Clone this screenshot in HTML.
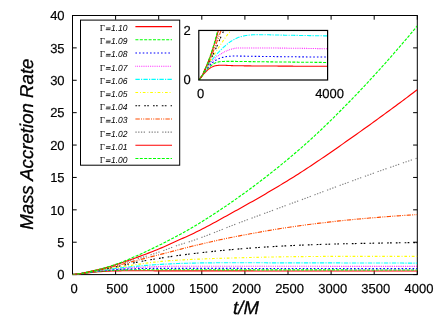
<!DOCTYPE html>
<html><head><meta charset="utf-8"><title>Mass Accretion Rate</title>
<style>html,body{margin:0;padding:0;background:#fff;}svg{display:block;}text{font-family:"Liberation Sans",sans-serif;fill:#000;text-rendering:geometricPrecision;}.tk{font-size:13px;stroke:#000;stroke-width:0.18px;}.ser{font-family:"Liberation Serif",serif;}</style></head><body>
<svg width="436" height="318" viewBox="0 0 436 318">
<rect x="0" y="0" width="436" height="318" fill="#fff"/>
<g style="will-change:transform">
<defs><clipPath id="cm"><rect x="72.5" y="15.5" width="344.8" height="259.1"/></clipPath><clipPath id="ci"><rect x="198.8" y="30.45" width="128.8" height="49.55"/></clipPath></defs>
<g stroke="#000" stroke-width="1" fill="none">
<rect x="72.5" y="15.5" width="344.8" height="259.1"/>
<path d="M72.50 274.6 v-4.2 M72.50 15.5 v4.2"/>
<path d="M115.60 274.6 v-4.2 M115.60 15.5 v4.2"/>
<path d="M158.70 274.6 v-4.2 M158.70 15.5 v4.2"/>
<path d="M201.80 274.6 v-4.2 M201.80 15.5 v4.2"/>
<path d="M244.90 274.6 v-4.2 M244.90 15.5 v4.2"/>
<path d="M288.00 274.6 v-4.2 M288.00 15.5 v4.2"/>
<path d="M331.10 274.6 v-4.2 M331.10 15.5 v4.2"/>
<path d="M374.20 274.6 v-4.2 M374.20 15.5 v4.2"/>
<path d="M417.30 274.6 v-4.2 M417.30 15.5 v4.2"/>
<path d="M72.5 274.60 h4.2 M417.3 274.60 h-4.2"/>
<path d="M72.5 242.21 h4.2 M417.3 242.21 h-4.2"/>
<path d="M72.5 209.83 h4.2 M417.3 209.83 h-4.2"/>
<path d="M72.5 177.44 h4.2 M417.3 177.44 h-4.2"/>
<path d="M72.5 145.05 h4.2 M417.3 145.05 h-4.2"/>
<path d="M72.5 112.66 h4.2 M417.3 112.66 h-4.2"/>
<path d="M72.5 80.28 h4.2 M417.3 80.28 h-4.2"/>
<path d="M72.5 47.89 h4.2 M417.3 47.89 h-4.2"/>
<path d="M72.5 15.50 h4.2 M417.3 15.50 h-4.2"/>
</g>
<text class="tk" x="64.6" y="279.35" text-anchor="end">0</text>
<text class="tk" x="64.6" y="246.96" text-anchor="end">5</text>
<text class="tk" x="64.6" y="214.58" text-anchor="end">10</text>
<text class="tk" x="64.6" y="182.19" text-anchor="end">15</text>
<text class="tk" x="64.6" y="149.80" text-anchor="end">20</text>
<text class="tk" x="64.6" y="117.41" text-anchor="end">25</text>
<text class="tk" x="64.6" y="85.03" text-anchor="end">30</text>
<text class="tk" x="64.6" y="52.64" text-anchor="end">35</text>
<text class="tk" x="64.6" y="20.25" text-anchor="end">40</text>
<text class="tk" x="74.10" y="293.1" text-anchor="middle">0</text>
<text class="tk" x="117.20" y="293.1" text-anchor="middle">500</text>
<text class="tk" x="160.30" y="293.1" text-anchor="middle">1000</text>
<text class="tk" x="203.40" y="293.1" text-anchor="middle">1500</text>
<text class="tk" x="246.50" y="293.1" text-anchor="middle">2000</text>
<text class="tk" x="289.60" y="293.1" text-anchor="middle">2500</text>
<text class="tk" x="332.70" y="293.1" text-anchor="middle">3000</text>
<text class="tk" x="375.80" y="293.1" text-anchor="middle">3500</text>
<text class="tk" x="418.90" y="293.1" text-anchor="middle">4000</text>
<text x="246" y="313.5" text-anchor="middle" font-size="18.6" font-style="italic" stroke="#000" stroke-width="0.3">t/M</text>
<text transform="translate(33.0 144.2) rotate(-90)" text-anchor="middle" font-size="18.65" font-style="italic" stroke="#000" stroke-width="0.3">Mass Accretion Rate</text>
<g clip-path="url(#cm)">
<path d="M72.50 274.60 L74.67 274.33 L76.84 274.07 L79.01 273.81 L81.17 273.56 L83.34 273.31 L85.51 273.07 L87.68 272.83 L89.85 272.62 L92.02 272.40 L94.19 272.18 L96.35 271.97 L98.52 271.77 L100.69 271.60 L102.86 271.46 L105.03 271.34 L107.20 271.23 L109.37 271.13 L111.53 271.04 L113.70 270.96 L115.87 270.90 L118.04 270.86 L120.21 270.83 L122.38 270.80 L124.55 270.77 L126.71 270.75 L128.88 270.73 L131.05 270.73 L133.22 270.73 L135.39 270.73 L137.56 270.73 L139.73 270.74 L141.89 270.75 L144.06 270.76 L146.23 270.77 L148.40 270.78 L150.57 270.79 L152.74 270.80 L154.91 270.82 L157.07 270.83 L159.24 270.84 L161.41 270.84 L163.58 270.85 L165.75 270.86 L167.92 270.86 L170.08 270.86 L172.25 270.87 L174.42 270.87 L176.59 270.87 L178.76 270.88 L180.93 270.88 L183.10 270.88 L185.26 270.89 L187.43 270.89 L189.60 270.89 L191.77 270.89 L193.94 270.90 L196.11 270.90 L198.28 270.90 L200.44 270.90 L202.61 270.91 L204.78 270.91 L206.95 270.91 L209.12 270.91 L211.29 270.92 L213.46 270.92 L215.62 270.92 L217.79 270.92 L219.96 270.92 L222.13 270.92 L224.30 270.93 L226.47 270.93 L228.64 270.93 L230.80 270.93 L232.97 270.93 L235.14 270.93 L237.31 270.94 L239.48 270.94 L241.65 270.94 L243.82 270.94 L245.98 270.94 L248.15 270.94 L250.32 270.94 L252.49 270.94 L254.66 270.95 L256.83 270.95 L259.00 270.95 L261.16 270.95 L263.33 270.95 L265.50 270.95 L267.67 270.95 L269.84 270.95 L272.01 270.96 L274.18 270.96 L276.34 270.96 L278.51 270.96 L280.68 270.96 L282.85 270.96 L285.02 270.96 L287.19 270.96 L289.36 270.97 L291.52 270.97 L293.69 270.97 L295.86 270.97 L298.03 270.97 L300.20 270.97 L302.37 270.97 L304.54 270.97 L306.70 270.97 L308.87 270.98 L311.04 270.98 L313.21 270.98 L315.38 270.98 L317.55 270.98 L319.72 270.98 L321.88 270.98 L324.05 270.98 L326.22 270.98 L328.39 270.98 L330.56 270.99 L332.73 270.99 L334.89 270.99 L337.06 270.99 L339.23 270.99 L341.40 270.99 L343.57 270.99 L345.74 270.99 L347.91 270.99 L350.07 270.99 L352.24 270.99 L354.41 270.99 L356.58 270.99 L358.75 271.00 L360.92 271.00 L363.09 271.00 L365.25 271.00 L367.42 271.00 L369.59 271.00 L371.76 271.00 L373.93 271.00 L376.10 271.00 L378.27 271.00 L380.43 271.00 L382.60 271.00 L384.77 271.00 L386.94 271.00 L389.11 271.00 L391.28 271.00 L393.45 271.00 L395.61 271.00 L397.78 271.00 L399.95 271.00 L402.12 271.00 L404.29 271.00 L406.46 271.00 L408.63 271.00 L410.79 271.00 L412.96 271.00 L415.13 271.00 L417.30 271.00" stroke="#ff0000" stroke-width="1.15" fill="none"/>
<path d="M72.50 274.60 L74.67 274.34 L76.84 274.07 L79.01 273.80 L81.17 273.52 L83.34 273.23 L85.51 272.93 L87.68 272.63 L89.85 272.37 L92.02 272.12 L94.19 271.88 L96.35 271.65 L98.52 271.43 L100.69 271.23 L102.86 271.04 L105.03 270.87 L107.20 270.71 L109.37 270.55 L111.53 270.41 L113.70 270.28 L115.87 270.17 L118.04 270.09 L120.21 270.02 L122.38 269.95 L124.55 269.89 L126.71 269.84 L128.88 269.80 L131.05 269.78 L133.22 269.77 L135.39 269.76 L137.56 269.75 L139.73 269.74 L141.89 269.74 L144.06 269.73 L146.23 269.73 L148.40 269.73 L150.57 269.73 L152.74 269.73 L154.91 269.73 L157.07 269.73 L159.24 269.73 L161.41 269.73 L163.58 269.73 L165.75 269.73 L167.92 269.74 L170.08 269.74 L172.25 269.74 L174.42 269.74 L176.59 269.74 L178.76 269.75 L180.93 269.75 L183.10 269.75 L185.26 269.75 L187.43 269.76 L189.60 269.76 L191.77 269.76 L193.94 269.77 L196.11 269.77 L198.28 269.77 L200.44 269.78 L202.61 269.78 L204.78 269.78 L206.95 269.79 L209.12 269.79 L211.29 269.79 L213.46 269.80 L215.62 269.80 L217.79 269.80 L219.96 269.81 L222.13 269.81 L224.30 269.81 L226.47 269.82 L228.64 269.82 L230.80 269.82 L232.97 269.82 L235.14 269.83 L237.31 269.83 L239.48 269.83 L241.65 269.84 L243.82 269.84 L245.98 269.84 L248.15 269.84 L250.32 269.84 L252.49 269.85 L254.66 269.85 L256.83 269.85 L259.00 269.85 L261.16 269.86 L263.33 269.86 L265.50 269.86 L267.67 269.86 L269.84 269.87 L272.01 269.87 L274.18 269.87 L276.34 269.87 L278.51 269.88 L280.68 269.88 L282.85 269.88 L285.02 269.88 L287.19 269.88 L289.36 269.89 L291.52 269.89 L293.69 269.89 L295.86 269.89 L298.03 269.90 L300.20 269.90 L302.37 269.90 L304.54 269.90 L306.70 269.91 L308.87 269.91 L311.04 269.91 L313.21 269.91 L315.38 269.91 L317.55 269.92 L319.72 269.92 L321.88 269.92 L324.05 269.92 L326.22 269.93 L328.39 269.93 L330.56 269.93 L332.73 269.93 L334.89 269.93 L337.06 269.94 L339.23 269.94 L341.40 269.94 L343.57 269.94 L345.74 269.94 L347.91 269.95 L350.07 269.95 L352.24 269.95 L354.41 269.95 L356.58 269.96 L358.75 269.96 L360.92 269.96 L363.09 269.96 L365.25 269.96 L367.42 269.97 L369.59 269.97 L371.76 269.97 L373.93 269.97 L376.10 269.97 L378.27 269.98 L380.43 269.98 L382.60 269.98 L384.77 269.98 L386.94 269.99 L389.11 269.99 L391.28 269.99 L393.45 269.99 L395.61 269.99 L397.78 270.00 L399.95 270.00 L402.12 270.00 L404.29 270.00 L406.46 270.00 L408.63 270.01 L410.79 270.01 L412.96 270.01 L415.13 270.01 L417.30 270.01" stroke="#00ff00" stroke-width="1.15" fill="none" stroke-dasharray="3 1.4"/>
<path d="M72.50 274.60 L74.67 274.35 L76.84 274.08 L79.01 273.80 L81.17 273.50 L83.34 273.17 L85.51 272.82 L87.68 272.47 L89.85 272.16 L92.02 271.87 L94.19 271.60 L96.35 271.33 L98.52 271.08 L100.69 270.85 L102.86 270.63 L105.03 270.43 L107.20 270.23 L109.37 270.05 L111.53 269.87 L113.70 269.71 L115.87 269.57 L118.04 269.44 L120.21 269.32 L122.38 269.21 L124.55 269.10 L126.71 269.01 L128.88 268.92 L131.05 268.85 L133.22 268.78 L135.39 268.71 L137.56 268.65 L139.73 268.60 L141.89 268.55 L144.06 268.51 L146.23 268.48 L148.40 268.46 L150.57 268.44 L152.74 268.41 L154.91 268.39 L157.07 268.38 L159.24 268.36 L161.41 268.35 L163.58 268.35 L165.75 268.34 L167.92 268.34 L170.08 268.34 L172.25 268.34 L174.42 268.35 L176.59 268.35 L178.76 268.35 L180.93 268.35 L183.10 268.35 L185.26 268.35 L187.43 268.36 L189.60 268.36 L191.77 268.36 L193.94 268.37 L196.11 268.37 L198.28 268.37 L200.44 268.38 L202.61 268.38 L204.78 268.38 L206.95 268.39 L209.12 268.39 L211.29 268.39 L213.46 268.40 L215.62 268.40 L217.79 268.41 L219.96 268.41 L222.13 268.41 L224.30 268.42 L226.47 268.42 L228.64 268.42 L230.80 268.43 L232.97 268.43 L235.14 268.43 L237.31 268.44 L239.48 268.44 L241.65 268.44 L243.82 268.45 L245.98 268.45 L248.15 268.45 L250.32 268.45 L252.49 268.45 L254.66 268.46 L256.83 268.46 L259.00 268.46 L261.16 268.46 L263.33 268.47 L265.50 268.47 L267.67 268.47 L269.84 268.47 L272.01 268.48 L274.18 268.48 L276.34 268.48 L278.51 268.48 L280.68 268.49 L282.85 268.49 L285.02 268.49 L287.19 268.49 L289.36 268.49 L291.52 268.50 L293.69 268.50 L295.86 268.50 L298.03 268.50 L300.20 268.51 L302.37 268.51 L304.54 268.51 L306.70 268.51 L308.87 268.51 L311.04 268.52 L313.21 268.52 L315.38 268.52 L317.55 268.52 L319.72 268.53 L321.88 268.53 L324.05 268.53 L326.22 268.53 L328.39 268.53 L330.56 268.54 L332.73 268.54 L334.89 268.54 L337.06 268.54 L339.23 268.54 L341.40 268.55 L343.57 268.55 L345.74 268.55 L347.91 268.55 L350.07 268.55 L352.24 268.56 L354.41 268.56 L356.58 268.56 L358.75 268.56 L360.92 268.56 L363.09 268.57 L365.25 268.57 L367.42 268.57 L369.59 268.57 L371.76 268.57 L373.93 268.58 L376.10 268.58 L378.27 268.58 L380.43 268.58 L382.60 268.58 L384.77 268.58 L386.94 268.59 L389.11 268.59 L391.28 268.59 L393.45 268.59 L395.61 268.59 L397.78 268.59 L399.95 268.60 L402.12 268.60 L404.29 268.60 L406.46 268.60 L408.63 268.60 L410.79 268.60 L412.96 268.61 L415.13 268.61 L417.30 268.61" stroke="#0000ff" stroke-width="1.15" fill="none" stroke-dasharray="1.6 2.06"/>
<path d="M72.50 274.60 L74.67 274.36 L76.84 274.09 L79.01 273.80 L81.17 273.49 L83.34 273.13 L85.51 272.73 L87.68 272.33 L89.85 271.99 L92.02 271.67 L94.19 271.36 L96.35 271.08 L98.52 270.80 L100.69 270.53 L102.86 270.28 L105.03 270.03 L107.20 269.78 L109.37 269.55 L111.53 269.32 L113.70 269.11 L115.87 268.91 L118.04 268.73 L120.21 268.56 L122.38 268.40 L124.55 268.25 L126.71 268.10 L128.88 267.96 L131.05 267.83 L133.22 267.70 L135.39 267.57 L137.56 267.45 L139.73 267.33 L141.89 267.22 L144.06 267.12 L146.23 267.02 L148.40 266.93 L150.57 266.84 L152.74 266.76 L154.91 266.68 L157.07 266.61 L159.24 266.55 L161.41 266.50 L163.58 266.44 L165.75 266.39 L167.92 266.34 L170.08 266.30 L172.25 266.27 L174.42 266.25 L176.59 266.24 L178.76 266.24 L180.93 266.24 L183.10 266.24 L185.26 266.24 L187.43 266.24 L189.60 266.24 L191.77 266.24 L193.94 266.24 L196.11 266.24 L198.28 266.24 L200.44 266.24 L202.61 266.24 L204.78 266.24 L206.95 266.24 L209.12 266.24 L211.29 266.24 L213.46 266.24 L215.62 266.24 L217.79 266.24 L219.96 266.24 L222.13 266.24 L224.30 266.24 L226.47 266.24 L228.64 266.24 L230.80 266.24 L232.97 266.24 L235.14 266.24 L237.31 266.24 L239.48 266.24 L241.65 266.24 L243.82 266.24 L245.98 266.24 L248.15 266.24 L250.32 266.24 L252.49 266.24 L254.66 266.24 L256.83 266.25 L259.00 266.25 L261.16 266.25 L263.33 266.25 L265.50 266.25 L267.67 266.25 L269.84 266.25 L272.01 266.25 L274.18 266.25 L276.34 266.25 L278.51 266.25 L280.68 266.25 L282.85 266.26 L285.02 266.26 L287.19 266.26 L289.36 266.26 L291.52 266.26 L293.69 266.26 L295.86 266.26 L298.03 266.27 L300.20 266.27 L302.37 266.27 L304.54 266.27 L306.70 266.27 L308.87 266.28 L311.04 266.28 L313.21 266.28 L315.38 266.28 L317.55 266.28 L319.72 266.29 L321.88 266.29 L324.05 266.29 L326.22 266.29 L328.39 266.30 L330.56 266.30 L332.73 266.30 L334.89 266.30 L337.06 266.31 L339.23 266.31 L341.40 266.31 L343.57 266.32 L345.74 266.32 L347.91 266.32 L350.07 266.32 L352.24 266.33 L354.41 266.33 L356.58 266.33 L358.75 266.34 L360.92 266.34 L363.09 266.34 L365.25 266.35 L367.42 266.35 L369.59 266.35 L371.76 266.36 L373.93 266.36 L376.10 266.36 L378.27 266.37 L380.43 266.37 L382.60 266.38 L384.77 266.38 L386.94 266.38 L389.11 266.39 L391.28 266.39 L393.45 266.39 L395.61 266.40 L397.78 266.40 L399.95 266.41 L402.12 266.41 L404.29 266.41 L406.46 266.42 L408.63 266.42 L410.79 266.43 L412.96 266.43 L415.13 266.43 L417.30 266.44" stroke="#ff00ff" stroke-width="1.15" fill="none" stroke-dasharray="0.75 1.08"/>
<path d="M72.50 274.60 L74.67 274.37 L76.84 274.11 L79.01 273.81 L81.17 273.49 L83.34 273.11 L85.51 272.68 L87.68 272.25 L89.85 271.88 L92.02 271.53 L94.19 271.20 L96.35 270.89 L98.52 270.58 L100.69 270.28 L102.86 269.99 L105.03 269.70 L107.20 269.42 L109.37 269.15 L111.53 268.88 L113.70 268.62 L115.87 268.37 L118.04 268.13 L120.21 267.89 L122.38 267.65 L124.55 267.42 L126.71 267.20 L128.88 266.98 L131.05 266.77 L133.22 266.56 L135.39 266.36 L137.56 266.16 L139.73 265.97 L141.89 265.77 L144.06 265.58 L146.23 265.39 L148.40 265.22 L150.57 265.04 L152.74 264.88 L154.91 264.73 L157.07 264.59 L159.24 264.45 L161.41 264.32 L163.58 264.19 L165.75 264.07 L167.92 263.95 L170.08 263.84 L172.25 263.73 L174.42 263.63 L176.59 263.54 L178.76 263.46 L180.93 263.39 L183.10 263.33 L185.26 263.27 L187.43 263.21 L189.60 263.16 L191.77 263.11 L193.94 263.06 L196.11 263.02 L198.28 262.98 L200.44 262.94 L202.61 262.91 L204.78 262.89 L206.95 262.87 L209.12 262.85 L211.29 262.83 L213.46 262.81 L215.62 262.80 L217.79 262.78 L219.96 262.77 L222.13 262.76 L224.30 262.75 L226.47 262.75 L228.64 262.75 L230.80 262.75 L232.97 262.75 L235.14 262.75 L237.31 262.75 L239.48 262.75 L241.65 262.76 L243.82 262.76 L245.98 262.76 L248.15 262.76 L250.32 262.77 L252.49 262.77 L254.66 262.78 L256.83 262.78 L259.00 262.78 L261.16 262.79 L263.33 262.79 L265.50 262.80 L267.67 262.80 L269.84 262.81 L272.01 262.81 L274.18 262.82 L276.34 262.82 L278.51 262.83 L280.68 262.84 L282.85 262.84 L285.02 262.85 L287.19 262.85 L289.36 262.85 L291.52 262.86 L293.69 262.86 L295.86 262.87 L298.03 262.87 L300.20 262.88 L302.37 262.88 L304.54 262.88 L306.70 262.89 L308.87 262.89 L311.04 262.89 L313.21 262.90 L315.38 262.90 L317.55 262.91 L319.72 262.91 L321.88 262.91 L324.05 262.92 L326.22 262.92 L328.39 262.92 L330.56 262.93 L332.73 262.93 L334.89 262.94 L337.06 262.94 L339.23 262.94 L341.40 262.95 L343.57 262.95 L345.74 262.95 L347.91 262.96 L350.07 262.96 L352.24 262.96 L354.41 262.97 L356.58 262.97 L358.75 262.98 L360.92 262.98 L363.09 262.98 L365.25 262.99 L367.42 262.99 L369.59 262.99 L371.76 263.00 L373.93 263.00 L376.10 263.00 L378.27 263.01 L380.43 263.01 L382.60 263.01 L384.77 263.02 L386.94 263.02 L389.11 263.03 L391.28 263.03 L393.45 263.03 L395.61 263.04 L397.78 263.04 L399.95 263.04 L402.12 263.05 L404.29 263.05 L406.46 263.05 L408.63 263.06 L410.79 263.06 L412.96 263.06 L415.13 263.07 L417.30 263.07" stroke="#00ffff" stroke-width="1.15" fill="none" stroke-dasharray="4.4 1.2 1.2 1.2"/>
<path d="M72.50 274.60 L74.67 274.38 L76.84 274.11 L79.01 273.82 L81.17 273.49 L83.34 273.10 L85.51 272.66 L87.68 272.21 L89.85 271.80 L92.02 271.43 L94.19 271.07 L96.35 270.71 L98.52 270.37 L100.69 270.03 L102.86 269.68 L105.03 269.33 L107.20 268.98 L109.37 268.63 L111.53 268.28 L113.70 267.94 L115.87 267.60 L118.04 267.26 L120.21 266.93 L122.38 266.60 L124.55 266.27 L126.71 265.95 L128.88 265.63 L131.05 265.32 L133.22 265.01 L135.39 264.70 L137.56 264.38 L139.73 264.07 L141.89 263.75 L144.06 263.44 L146.23 263.14 L148.40 262.85 L150.57 262.58 L152.74 262.32 L154.91 262.09 L157.07 261.87 L159.24 261.65 L161.41 261.44 L163.58 261.24 L165.75 261.05 L167.92 260.86 L170.08 260.69 L172.25 260.52 L174.42 260.37 L176.59 260.22 L178.76 260.09 L180.93 259.97 L183.10 259.86 L185.26 259.74 L187.43 259.63 L189.60 259.53 L191.77 259.43 L193.94 259.33 L196.11 259.23 L198.28 259.14 L200.44 259.04 L202.61 258.96 L204.78 258.87 L206.95 258.79 L209.12 258.71 L211.29 258.63 L213.46 258.55 L215.62 258.47 L217.79 258.40 L219.96 258.33 L222.13 258.26 L224.30 258.20 L226.47 258.13 L228.64 258.07 L230.80 258.01 L232.97 257.94 L235.14 257.89 L237.31 257.83 L239.48 257.77 L241.65 257.72 L243.82 257.66 L245.98 257.61 L248.15 257.55 L250.32 257.50 L252.49 257.44 L254.66 257.39 L256.83 257.34 L259.00 257.28 L261.16 257.23 L263.33 257.18 L265.50 257.13 L267.67 257.09 L269.84 257.04 L272.01 257.00 L274.18 256.95 L276.34 256.91 L278.51 256.87 L280.68 256.83 L282.85 256.80 L285.02 256.76 L287.19 256.73 L289.36 256.70 L291.52 256.68 L293.69 256.65 L295.86 256.63 L298.03 256.61 L300.20 256.59 L302.37 256.58 L304.54 256.56 L306.70 256.54 L308.87 256.53 L311.04 256.51 L313.21 256.50 L315.38 256.49 L317.55 256.47 L319.72 256.46 L321.88 256.45 L324.05 256.43 L326.22 256.42 L328.39 256.41 L330.56 256.40 L332.73 256.39 L334.89 256.38 L337.06 256.37 L339.23 256.37 L341.40 256.36 L343.57 256.35 L345.74 256.35 L347.91 256.34 L350.07 256.34 L352.24 256.34 L354.41 256.33 L356.58 256.33 L358.75 256.33 L360.92 256.33 L363.09 256.33 L365.25 256.33 L367.42 256.33 L369.59 256.33 L371.76 256.33 L373.93 256.33 L376.10 256.33 L378.27 256.33 L380.43 256.33 L382.60 256.33 L384.77 256.33 L386.94 256.33 L389.11 256.33 L391.28 256.33 L393.45 256.33 L395.61 256.33 L397.78 256.33 L399.95 256.33 L402.12 256.33 L404.29 256.33 L406.46 256.33 L408.63 256.33 L410.79 256.33 L412.96 256.33 L415.13 256.33 L417.30 256.33" stroke="#ffff00" stroke-width="1.15" fill="none" stroke-dasharray="2.7 1.9 0.9 1.9"/>
<path d="M72.50 274.60 L74.67 274.38 L76.84 274.12 L79.01 273.81 L81.17 273.48 L83.34 273.09 L85.51 272.62 L87.68 272.15 L89.85 271.73 L92.02 271.34 L94.19 270.98 L96.35 270.62 L98.52 270.25 L100.69 269.88 L102.86 269.50 L105.03 269.08 L107.20 268.65 L109.37 268.21 L111.53 267.76 L113.70 267.31 L115.87 266.85 L118.04 266.39 L120.21 265.92 L122.38 265.44 L124.55 264.95 L126.71 264.45 L128.88 263.96 L131.05 263.47 L133.22 262.99 L135.39 262.52 L137.56 262.07 L139.73 261.65 L141.89 261.24 L144.06 260.84 L146.23 260.46 L148.40 260.09 L150.57 259.72 L152.74 259.36 L154.91 259.01 L157.07 258.66 L159.24 258.32 L161.41 257.98 L163.58 257.65 L165.75 257.32 L167.92 257.00 L170.08 256.68 L172.25 256.37 L174.42 256.06 L176.59 255.75 L178.76 255.45 L180.93 255.16 L183.10 254.86 L185.26 254.58 L187.43 254.30 L189.60 254.04 L191.77 253.78 L193.94 253.53 L196.11 253.28 L198.28 253.03 L200.44 252.78 L202.61 252.54 L204.78 252.29 L206.95 252.05 L209.12 251.82 L211.29 251.58 L213.46 251.35 L215.62 251.12 L217.79 250.90 L219.96 250.68 L222.13 250.46 L224.30 250.25 L226.47 250.05 L228.64 249.85 L230.80 249.65 L232.97 249.46 L235.14 249.27 L237.31 249.10 L239.48 248.92 L241.65 248.76 L243.82 248.59 L245.98 248.43 L248.15 248.26 L250.32 248.10 L252.49 247.95 L254.66 247.79 L256.83 247.64 L259.00 247.48 L261.16 247.34 L263.33 247.19 L265.50 247.05 L267.67 246.90 L269.84 246.77 L272.01 246.63 L274.18 246.50 L276.34 246.37 L278.51 246.24 L280.68 246.12 L282.85 246.00 L285.02 245.89 L287.19 245.77 L289.36 245.67 L291.52 245.56 L293.69 245.46 L295.86 245.36 L298.03 245.27 L300.20 245.18 L302.37 245.10 L304.54 245.01 L306.70 244.93 L308.87 244.85 L311.04 244.78 L313.21 244.70 L315.38 244.62 L317.55 244.55 L319.72 244.48 L321.88 244.41 L324.05 244.34 L326.22 244.28 L328.39 244.21 L330.56 244.15 L332.73 244.09 L334.89 244.03 L337.06 243.97 L339.23 243.91 L341.40 243.86 L343.57 243.80 L345.74 243.75 L347.91 243.70 L350.07 243.65 L352.24 243.61 L354.41 243.56 L356.58 243.52 L358.75 243.47 L360.92 243.43 L363.09 243.39 L365.25 243.35 L367.42 243.30 L369.59 243.26 L371.76 243.22 L373.93 243.18 L376.10 243.15 L378.27 243.11 L380.43 243.07 L382.60 243.03 L384.77 243.00 L386.94 242.96 L389.11 242.93 L391.28 242.90 L393.45 242.87 L395.61 242.84 L397.78 242.81 L399.95 242.78 L402.12 242.75 L404.29 242.73 L406.46 242.70 L408.63 242.68 L410.79 242.66 L412.96 242.64 L415.13 242.62 L417.30 242.60" stroke="#000000" stroke-width="1.15" fill="none" stroke-dasharray="1.7 1.3 1.7 4.1"/>
<path d="M72.50 274.60 L74.67 274.38 L76.84 274.12 L79.01 273.82 L81.17 273.48 L83.34 273.08 L85.51 272.62 L87.68 272.14 L89.85 271.69 L92.02 271.26 L94.19 270.84 L96.35 270.43 L98.52 270.01 L100.69 269.58 L102.86 269.12 L105.03 268.64 L107.20 268.13 L109.37 267.60 L111.53 267.05 L113.70 266.50 L115.87 265.95 L118.04 265.39 L120.21 264.83 L122.38 264.25 L124.55 263.67 L126.71 263.09 L128.88 262.51 L131.05 261.93 L133.22 261.37 L135.39 260.80 L137.56 260.24 L139.73 259.69 L141.89 259.13 L144.06 258.58 L146.23 258.02 L148.40 257.47 L150.57 256.92 L152.74 256.37 L154.91 255.81 L157.07 255.26 L159.24 254.70 L161.41 254.15 L163.58 253.60 L165.75 253.04 L167.92 252.49 L170.08 251.94 L172.25 251.38 L174.42 250.82 L176.59 250.26 L178.76 249.70 L180.93 249.13 L183.10 248.55 L185.26 247.96 L187.43 247.38 L189.60 246.82 L191.77 246.29 L193.94 245.76 L196.11 245.24 L198.28 244.72 L200.44 244.21 L202.61 243.70 L204.78 243.20 L206.95 242.70 L209.12 242.20 L211.29 241.71 L213.46 241.23 L215.62 240.75 L217.79 240.27 L219.96 239.80 L222.13 239.34 L224.30 238.88 L226.47 238.43 L228.64 237.98 L230.80 237.54 L232.97 237.10 L235.14 236.67 L237.31 236.25 L239.48 235.83 L241.65 235.42 L243.82 235.01 L245.98 234.60 L248.15 234.19 L250.32 233.79 L252.49 233.39 L254.66 233.00 L256.83 232.60 L259.00 232.21 L261.16 231.83 L263.33 231.44 L265.50 231.07 L267.67 230.69 L269.84 230.32 L272.01 229.96 L274.18 229.60 L276.34 229.24 L278.51 228.89 L280.68 228.54 L282.85 228.20 L285.02 227.86 L287.19 227.53 L289.36 227.21 L291.52 226.89 L293.69 226.57 L295.86 226.26 L298.03 225.96 L300.20 225.67 L302.37 225.37 L304.54 225.09 L306.70 224.80 L308.87 224.52 L311.04 224.24 L313.21 223.97 L315.38 223.69 L317.55 223.43 L319.72 223.16 L321.88 222.90 L324.05 222.64 L326.22 222.39 L328.39 222.14 L330.56 221.89 L332.73 221.64 L334.89 221.40 L337.06 221.17 L339.23 220.93 L341.40 220.70 L343.57 220.48 L345.74 220.26 L347.91 220.04 L350.07 219.82 L352.24 219.61 L354.41 219.41 L356.58 219.20 L358.75 219.00 L360.92 218.81 L363.09 218.62 L365.25 218.43 L367.42 218.24 L369.59 218.05 L371.76 217.86 L373.93 217.68 L376.10 217.50 L378.27 217.32 L380.43 217.15 L382.60 216.98 L384.77 216.81 L386.94 216.64 L389.11 216.48 L391.28 216.31 L393.45 216.15 L395.61 216.00 L397.78 215.85 L399.95 215.70 L402.12 215.55 L404.29 215.41 L406.46 215.27 L408.63 215.13 L410.79 215.00 L412.96 214.87 L415.13 214.74 L417.30 214.62" stroke="#ff4d00" stroke-width="1.15" fill="none" stroke-dasharray="4.4 1.2 1.0 1.2 1.0 1.2"/>
<path d="M72.50 274.60 L74.67 274.39 L76.84 274.12 L79.01 273.82 L81.17 273.48 L83.34 273.09 L85.51 272.63 L87.68 272.14 L89.85 271.66 L92.02 271.19 L94.19 270.71 L96.35 270.22 L98.52 269.73 L100.69 269.21 L102.86 268.68 L105.03 268.12 L107.20 267.53 L109.37 266.92 L111.53 266.29 L113.70 265.66 L115.87 265.03 L118.04 264.41 L120.21 263.79 L122.38 263.17 L124.55 262.55 L126.71 261.92 L128.88 261.29 L131.05 260.66 L133.22 260.02 L135.39 259.39 L137.56 258.76 L139.73 258.12 L141.89 257.48 L144.06 256.83 L146.23 256.18 L148.40 255.52 L150.57 254.85 L152.74 254.18 L154.91 253.49 L157.07 252.79 L159.24 252.07 L161.41 251.33 L163.58 250.55 L165.75 249.75 L167.92 248.94 L170.08 248.13 L172.25 247.31 L174.42 246.52 L176.59 245.74 L178.76 244.99 L180.93 244.28 L183.10 243.62 L185.26 242.99 L187.43 242.34 L189.60 241.66 L191.77 240.94 L193.94 240.20 L196.11 239.44 L198.28 238.67 L200.44 237.88 L202.61 237.08 L204.78 236.26 L206.95 235.44 L209.12 234.60 L211.29 233.76 L213.46 232.91 L215.62 232.06 L217.79 231.20 L219.96 230.34 L222.13 229.48 L224.30 228.62 L226.47 227.76 L228.64 226.90 L230.80 226.05 L232.97 225.20 L235.14 224.37 L237.31 223.53 L239.48 222.71 L241.65 221.90 L243.82 221.09 L245.98 220.28 L248.15 219.47 L250.32 218.66 L252.49 217.85 L254.66 217.05 L256.83 216.24 L259.00 215.44 L261.16 214.63 L263.33 213.83 L265.50 213.03 L267.67 212.23 L269.84 211.43 L272.01 210.63 L274.18 209.83 L276.34 209.03 L278.51 208.23 L280.68 207.43 L282.85 206.63 L285.02 205.83 L287.19 205.03 L289.36 204.23 L291.52 203.43 L293.69 202.63 L295.86 201.83 L298.03 201.03 L300.20 200.22 L302.37 199.42 L304.54 198.61 L306.70 197.81 L308.87 197.00 L311.04 196.19 L313.21 195.38 L315.38 194.57 L317.55 193.76 L319.72 192.95 L321.88 192.14 L324.05 191.33 L326.22 190.52 L328.39 189.71 L330.56 188.90 L332.73 188.09 L334.89 187.29 L337.06 186.48 L339.23 185.68 L341.40 184.87 L343.57 184.07 L345.74 183.27 L347.91 182.48 L350.07 181.68 L352.24 180.89 L354.41 180.10 L356.58 179.31 L358.75 178.53 L360.92 177.75 L363.09 176.97 L365.25 176.19 L367.42 175.41 L369.59 174.64 L371.76 173.87 L373.93 173.10 L376.10 172.33 L378.27 171.56 L380.43 170.79 L382.60 170.03 L384.77 169.26 L386.94 168.50 L389.11 167.74 L391.28 166.98 L393.45 166.23 L395.61 165.47 L397.78 164.72 L399.95 163.96 L402.12 163.21 L404.29 162.46 L406.46 161.72 L408.63 160.97 L410.79 160.23 L412.96 159.49 L415.13 158.74 L417.30 158.01" stroke="#808080" stroke-width="1.15" fill="none" stroke-dasharray="1.3 1.46 1.3 1.46 1.3 1.46 1.3 3.85"/>
<path d="M72.50 274.60 L74.67 274.39 L76.84 274.12 L79.01 273.82 L81.17 273.48 L83.34 273.09 L85.51 272.63 L87.68 272.14 L89.85 271.66 L92.02 271.17 L94.19 270.68 L96.35 270.18 L98.52 269.66 L100.69 269.12 L102.86 268.56 L105.03 267.96 L107.20 267.34 L109.37 266.68 L111.53 266.01 L113.70 265.32 L115.87 264.63 L118.04 263.93 L120.21 263.23 L122.38 262.51 L124.55 261.77 L126.71 261.02 L128.88 260.26 L131.05 259.49 L133.22 258.72 L135.39 257.94 L137.56 257.16 L139.73 256.37 L141.89 255.56 L144.06 254.76 L146.23 253.94 L148.40 253.11 L150.57 252.27 L152.74 251.42 L154.91 250.55 L157.07 249.68 L159.24 248.79 L161.41 247.87 L163.58 246.93 L165.75 245.96 L167.92 244.98 L170.08 243.98 L172.25 242.98 L174.42 241.98 L176.59 240.99 L178.76 240.00 L180.93 239.04 L183.10 238.10 L185.26 237.17 L187.43 236.22 L189.60 235.23 L191.77 234.20 L193.94 233.15 L196.11 232.08 L198.28 231.00 L200.44 229.91 L202.61 228.79 L204.78 227.67 L206.95 226.53 L209.12 225.39 L211.29 224.23 L213.46 223.06 L215.62 221.88 L217.79 220.70 L219.96 219.51 L222.13 218.32 L224.30 217.12 L226.47 215.92 L228.64 214.71 L230.80 213.50 L232.97 212.30 L235.14 211.09 L237.31 209.88 L239.48 208.68 L241.65 207.48 L243.82 206.27 L245.98 205.06 L248.15 203.84 L250.32 202.61 L252.49 201.38 L254.66 200.14 L256.83 198.90 L259.00 197.65 L261.16 196.40 L263.33 195.14 L265.50 193.88 L267.67 192.60 L269.84 191.33 L272.01 190.04 L274.18 188.76 L276.34 187.47 L278.51 186.17 L280.68 184.87 L282.85 183.56 L285.02 182.24 L287.19 180.92 L289.36 179.59 L291.52 178.24 L293.69 176.89 L295.86 175.53 L298.03 174.15 L300.20 172.76 L302.37 171.36 L304.54 169.96 L306.70 168.54 L308.87 167.11 L311.04 165.68 L313.21 164.23 L315.38 162.78 L317.55 161.32 L319.72 159.86 L321.88 158.39 L324.05 156.91 L326.22 155.42 L328.39 153.93 L330.56 152.44 L332.73 150.94 L334.89 149.43 L337.06 147.92 L339.23 146.41 L341.40 144.89 L343.57 143.37 L345.74 141.84 L347.91 140.31 L350.07 138.78 L352.24 137.25 L354.41 135.72 L356.58 134.18 L358.75 132.64 L360.92 131.10 L363.09 129.56 L365.25 128.01 L367.42 126.46 L369.59 124.91 L371.76 123.35 L373.93 121.79 L376.10 120.22 L378.27 118.65 L380.43 117.07 L382.60 115.49 L384.77 113.91 L386.94 112.32 L389.11 110.72 L391.28 109.13 L393.45 107.53 L395.61 105.92 L397.78 104.32 L399.95 102.70 L402.12 101.09 L404.29 99.47 L406.46 97.84 L408.63 96.22 L410.79 94.58 L412.96 92.95 L415.13 91.31 L417.30 89.67" stroke="#ff0000" stroke-width="1.15" fill="none"/>
<path d="M72.50 274.60 L74.67 274.39 L76.84 274.12 L79.01 273.82 L81.17 273.48 L83.34 273.09 L85.51 272.64 L87.68 272.15 L89.85 271.65 L92.02 271.15 L94.19 270.63 L96.35 270.09 L98.52 269.54 L100.69 268.96 L102.86 268.37 L105.03 267.75 L107.20 267.10 L109.37 266.43 L111.53 265.74 L113.70 265.02 L115.87 264.28 L118.04 263.52 L120.21 262.72 L122.38 261.87 L124.55 260.99 L126.71 260.09 L128.88 259.18 L131.05 258.26 L133.22 257.32 L135.39 256.37 L137.56 255.41 L139.73 254.44 L141.89 253.46 L144.06 252.46 L146.23 251.46 L148.40 250.45 L150.57 249.42 L152.74 248.39 L154.91 247.35 L157.07 246.31 L159.24 245.25 L161.41 244.18 L163.58 243.08 L165.75 241.97 L167.92 240.84 L170.08 239.70 L172.25 238.55 L174.42 237.39 L176.59 236.22 L178.76 235.06 L180.93 233.89 L183.10 232.73 L185.26 231.55 L187.43 230.35 L189.60 229.11 L191.77 227.83 L193.94 226.54 L196.11 225.24 L198.28 223.92 L200.44 222.59 L202.61 221.25 L204.78 219.89 L206.95 218.52 L209.12 217.14 L211.29 215.75 L213.46 214.34 L215.62 212.92 L217.79 211.49 L219.96 210.05 L222.13 208.60 L224.30 207.13 L226.47 205.66 L228.64 204.17 L230.80 202.67 L232.97 201.17 L235.14 199.65 L237.31 198.12 L239.48 196.58 L241.65 195.04 L243.82 193.48 L245.98 191.91 L248.15 190.32 L250.32 188.73 L252.49 187.12 L254.66 185.51 L256.83 183.88 L259.00 182.24 L261.16 180.58 L263.33 178.92 L265.50 177.24 L267.67 175.55 L269.84 173.85 L272.01 172.14 L274.18 170.41 L276.34 168.68 L278.51 166.93 L280.68 165.16 L282.85 163.39 L285.02 161.60 L287.19 159.80 L289.36 157.99 L291.52 156.17 L293.69 154.33 L295.86 152.48 L298.03 150.62 L300.20 148.75 L302.37 146.86 L304.54 144.95 L306.70 143.02 L308.87 141.07 L311.04 139.10 L313.21 137.11 L315.38 135.11 L317.55 133.08 L319.72 131.05 L321.88 128.99 L324.05 126.92 L326.22 124.84 L328.39 122.74 L330.56 120.62 L332.73 118.49 L334.89 116.35 L337.06 114.20 L339.23 112.03 L341.40 109.85 L343.57 107.66 L345.74 105.46 L347.91 103.24 L350.07 101.02 L352.24 98.79 L354.41 96.54 L356.58 94.28 L358.75 92.01 L360.92 89.72 L363.09 87.43 L365.25 85.12 L367.42 82.80 L369.59 80.46 L371.76 78.11 L373.93 75.75 L376.10 73.38 L378.27 71.00 L380.43 68.60 L382.60 66.19 L384.77 63.77 L386.94 61.33 L389.11 58.88 L391.28 56.42 L393.45 53.94 L395.61 51.46 L397.78 48.96 L399.95 46.44 L402.12 43.92 L404.29 41.38 L406.46 38.82 L408.63 36.26 L410.79 33.68 L412.96 31.09 L415.13 28.48 L417.30 25.86" stroke="#00ff00" stroke-width="1.15" fill="none" stroke-dasharray="3 1.4"/>
</g>
<rect x="80.5" y="20.1" width="99.19999999999999" height="145.1" fill="none" stroke="#000" stroke-width="1"/>
<path d="M135.4 26.60 H172" stroke="#ff0000" stroke-width="1.05" fill="none"/>
<text y="31.00" font-size="8.8"><tspan class="ser" x="99.8" font-size="9">&#915;</tspan><tspan x="111.0" font-style="italic" textLength="16.6" lengthAdjust="spacingAndGlyphs">1.10</tspan></text>
<path d="M106.1 28.00 h4.6 M105.8 29.65 h4.6" stroke="#000" stroke-width="0.85" fill="none"/>
<path d="M135.4 39.79 H172" stroke="#00ff00" stroke-width="1.05" fill="none" stroke-dasharray="3 1.4"/>
<text y="44.19" font-size="8.8"><tspan class="ser" x="99.8" font-size="9">&#915;</tspan><tspan x="111.0" font-style="italic" textLength="16.6" lengthAdjust="spacingAndGlyphs">1.09</tspan></text>
<path d="M106.1 41.19 h4.6 M105.8 42.84 h4.6" stroke="#000" stroke-width="0.85" fill="none"/>
<path d="M135.4 52.98 H172" stroke="#0000ff" stroke-width="1.05" fill="none" stroke-dasharray="1.6 2.06"/>
<text y="57.38" font-size="8.8"><tspan class="ser" x="99.8" font-size="9">&#915;</tspan><tspan x="111.0" font-style="italic" textLength="16.6" lengthAdjust="spacingAndGlyphs">1.08</tspan></text>
<path d="M106.1 54.38 h4.6 M105.8 56.03 h4.6" stroke="#000" stroke-width="0.85" fill="none"/>
<path d="M135.4 66.17 H172" stroke="#ff00ff" stroke-width="1.05" fill="none" stroke-dasharray="0.75 1.08"/>
<text y="70.57" font-size="8.8"><tspan class="ser" x="99.8" font-size="9">&#915;</tspan><tspan x="111.0" font-style="italic" textLength="16.6" lengthAdjust="spacingAndGlyphs">1.07</tspan></text>
<path d="M106.1 67.57 h4.6 M105.8 69.22 h4.6" stroke="#000" stroke-width="0.85" fill="none"/>
<path d="M135.4 79.36 H172" stroke="#00ffff" stroke-width="1.05" fill="none" stroke-dasharray="4.4 1.2 1.2 1.2"/>
<text y="83.76" font-size="8.8"><tspan class="ser" x="99.8" font-size="9">&#915;</tspan><tspan x="111.0" font-style="italic" textLength="16.6" lengthAdjust="spacingAndGlyphs">1.06</tspan></text>
<path d="M106.1 80.76 h4.6 M105.8 82.41 h4.6" stroke="#000" stroke-width="0.85" fill="none"/>
<path d="M135.4 92.55 H172" stroke="#ffff00" stroke-width="1.05" fill="none" stroke-dasharray="2.7 1.9 0.9 1.9"/>
<text y="96.95" font-size="8.8"><tspan class="ser" x="99.8" font-size="9">&#915;</tspan><tspan x="111.0" font-style="italic" textLength="16.6" lengthAdjust="spacingAndGlyphs">1.05</tspan></text>
<path d="M106.1 93.95 h4.6 M105.8 95.60 h4.6" stroke="#000" stroke-width="0.85" fill="none"/>
<path d="M135.4 105.74 H172" stroke="#000000" stroke-width="1.05" fill="none" stroke-dasharray="1.7 1.3 1.7 4.1"/>
<text y="110.14" font-size="8.8"><tspan class="ser" x="99.8" font-size="9">&#915;</tspan><tspan x="111.0" font-style="italic" textLength="16.6" lengthAdjust="spacingAndGlyphs">1.04</tspan></text>
<path d="M106.1 107.14 h4.6 M105.8 108.79 h4.6" stroke="#000" stroke-width="0.85" fill="none"/>
<path d="M135.4 118.93 H172" stroke="#ff4d00" stroke-width="1.05" fill="none" stroke-dasharray="4.4 1.2 1.0 1.2 1.0 1.2"/>
<text y="123.33" font-size="8.8"><tspan class="ser" x="99.8" font-size="9">&#915;</tspan><tspan x="111.0" font-style="italic" textLength="16.6" lengthAdjust="spacingAndGlyphs">1.03</tspan></text>
<path d="M106.1 120.33 h4.6 M105.8 121.98 h4.6" stroke="#000" stroke-width="0.85" fill="none"/>
<path d="M135.4 132.12 H172" stroke="#808080" stroke-width="1.05" fill="none" stroke-dasharray="1.3 1.46 1.3 1.46 1.3 1.46 1.3 3.85"/>
<text y="136.52" font-size="8.8"><tspan class="ser" x="99.8" font-size="9">&#915;</tspan><tspan x="111.0" font-style="italic" textLength="16.6" lengthAdjust="spacingAndGlyphs">1.02</tspan></text>
<path d="M106.1 133.52 h4.6 M105.8 135.17 h4.6" stroke="#000" stroke-width="0.85" fill="none"/>
<path d="M135.4 145.31 H172" stroke="#ff0000" stroke-width="1.05" fill="none"/>
<text y="149.71" font-size="8.8"><tspan class="ser" x="99.8" font-size="9">&#915;</tspan><tspan x="111.0" font-style="italic" textLength="16.6" lengthAdjust="spacingAndGlyphs">1.01</tspan></text>
<path d="M106.1 146.71 h4.6 M105.8 148.36 h4.6" stroke="#000" stroke-width="0.85" fill="none"/>
<path d="M135.4 158.50 H172" stroke="#00ff00" stroke-width="1.05" fill="none" stroke-dasharray="3 1.4"/>
<text y="162.90" font-size="8.8"><tspan class="ser" x="99.8" font-size="9">&#915;</tspan><tspan x="111.0" font-style="italic" textLength="16.6" lengthAdjust="spacingAndGlyphs">1.00</tspan></text>
<path d="M106.1 159.90 h4.6 M105.8 161.55 h4.6" stroke="#000" stroke-width="0.85" fill="none"/>
<g clip-path="url(#ci)">
<path d="M198.80 80.00 L199.30 79.36 L199.79 78.74 L200.29 78.12 L200.79 77.51 L201.29 76.91 L201.78 76.31 L202.28 75.73 L202.78 75.15 L203.28 74.57 L203.77 74.01 L204.27 73.46 L204.77 72.94 L205.26 72.43 L205.76 71.91 L206.26 71.40 L206.76 70.88 L207.25 70.38 L207.75 69.89 L208.25 69.43 L208.75 68.99 L209.24 68.59 L209.74 68.23 L210.24 67.92 L210.74 67.64 L211.23 67.37 L211.73 67.12 L212.23 66.87 L212.72 66.64 L213.22 66.43 L213.72 66.24 L214.22 66.07 L214.71 65.92 L215.21 65.80 L215.71 65.71 L216.21 65.63 L216.70 65.56 L217.20 65.49 L217.70 65.42 L218.19 65.36 L218.69 65.30 L219.19 65.26 L219.69 65.22 L220.18 65.20 L220.68 65.19 L221.18 65.18 L221.68 65.19 L222.17 65.20 L222.67 65.21 L223.17 65.22 L223.66 65.23 L224.16 65.25 L224.66 65.27 L225.16 65.29 L225.65 65.32 L226.15 65.34 L226.65 65.37 L227.15 65.39 L227.64 65.42 L228.14 65.45 L228.64 65.47 L229.14 65.50 L229.63 65.53 L230.13 65.55 L230.63 65.57 L231.12 65.60 L231.62 65.62 L232.12 65.64 L232.62 65.65 L233.11 65.67 L233.61 65.68 L234.11 65.69 L234.61 65.70 L235.10 65.71 L235.60 65.71 L236.10 65.72 L236.59 65.73 L237.09 65.74 L237.59 65.75 L238.09 65.75 L238.58 65.76 L239.08 65.77 L239.58 65.78 L240.08 65.78 L240.57 65.79 L241.07 65.80 L241.57 65.81 L242.06 65.81 L242.56 65.82 L243.06 65.82 L243.56 65.83 L244.05 65.84 L244.55 65.84 L245.05 65.85 L245.55 65.86 L246.04 65.86 L246.54 65.87 L247.04 65.87 L247.54 65.88 L248.03 65.88 L248.53 65.89 L249.03 65.89 L249.52 65.90 L250.02 65.90 L250.52 65.91 L251.02 65.91 L251.51 65.92 L252.01 65.92 L252.51 65.93 L253.01 65.93 L253.50 65.93 L254.00 65.94 L254.50 65.94 L254.99 65.95 L255.49 65.95 L255.99 65.95 L256.49 65.96 L256.98 65.96 L257.48 65.96 L257.98 65.97 L258.48 65.97 L258.97 65.97 L259.47 65.98 L259.97 65.98 L260.46 65.98 L260.96 65.99 L261.46 65.99 L261.96 65.99 L262.45 66.00 L262.95 66.00 L263.45 66.00 L263.95 66.01 L264.44 66.01 L264.94 66.01 L265.44 66.02 L265.94 66.02 L266.43 66.02 L266.93 66.02 L267.43 66.03 L267.92 66.03 L268.42 66.03 L268.92 66.04 L269.42 66.04 L269.91 66.04 L270.41 66.05 L270.91 66.05 L271.41 66.05 L271.90 66.05 L272.40 66.06 L272.90 66.06 L273.39 66.06 L273.89 66.07 L274.39 66.07 L274.89 66.07 L275.38 66.07 L275.88 66.08 L276.38 66.08 L276.88 66.08 L277.37 66.08 L277.87 66.09 L278.37 66.09 L278.86 66.09 L279.36 66.10 L279.86 66.10 L280.36 66.10 L280.85 66.10 L281.35 66.11 L281.85 66.11 L282.35 66.11 L282.84 66.11 L283.34 66.12 L283.84 66.12 L284.34 66.12 L284.83 66.12 L285.33 66.13 L285.83 66.13 L286.32 66.13 L286.82 66.13 L287.32 66.14 L287.82 66.14 L288.31 66.14 L288.81 66.14 L289.31 66.15 L289.81 66.15 L290.30 66.15 L290.80 66.15 L291.30 66.16 L291.79 66.16 L292.29 66.16 L292.79 66.16 L293.29 66.17 L293.78 66.17 L294.28 66.17 L294.78 66.17 L295.28 66.17 L295.77 66.18 L296.27 66.18 L296.77 66.18 L297.26 66.18 L297.76 66.18 L298.26 66.19 L298.76 66.19 L299.25 66.19 L299.75 66.19 L300.25 66.19 L300.75 66.20 L301.24 66.20 L301.74 66.20 L302.24 66.20 L302.74 66.20 L303.23 66.20 L303.73 66.21 L304.23 66.21 L304.72 66.21 L305.22 66.21 L305.72 66.21 L306.22 66.21 L306.71 66.22 L307.21 66.22 L307.71 66.22 L308.21 66.22 L308.70 66.22 L309.20 66.22 L309.70 66.22 L310.19 66.23 L310.69 66.23 L311.19 66.23 L311.69 66.23 L312.18 66.23 L312.68 66.23 L313.18 66.23 L313.68 66.23 L314.17 66.24 L314.67 66.24 L315.17 66.24 L315.66 66.24 L316.16 66.24 L316.66 66.24 L317.16 66.24 L317.65 66.24 L318.15 66.24 L318.65 66.24 L319.15 66.24 L319.64 66.24 L320.14 66.25 L320.64 66.25 L321.14 66.25 L321.63 66.25 L322.13 66.25 L322.63 66.25 L323.12 66.25 L323.62 66.25 L324.12 66.25 L324.62 66.25 L325.11 66.25 L325.61 66.25 L326.11 66.25 L326.61 66.25 L327.10 66.25 L327.60 66.25" stroke="#ff0000" stroke-width="1.08" fill="none"/>
<path d="M198.80 80.00 L199.30 79.39 L199.79 78.78 L200.29 78.15 L200.79 77.52 L201.29 76.87 L201.78 76.22 L202.28 75.56 L202.78 74.86 L203.28 74.15 L203.77 73.44 L204.27 72.74 L204.77 72.09 L205.26 71.49 L205.76 70.89 L206.26 70.32 L206.76 69.75 L207.25 69.20 L207.75 68.66 L208.25 68.15 L208.75 67.65 L209.24 67.18 L209.74 66.74 L210.24 66.32 L210.74 65.92 L211.23 65.53 L211.73 65.15 L212.23 64.77 L212.72 64.41 L213.22 64.07 L213.72 63.76 L214.22 63.47 L214.71 63.21 L215.21 62.98 L215.71 62.80 L216.21 62.62 L216.70 62.46 L217.20 62.30 L217.70 62.15 L218.19 62.01 L218.69 61.88 L219.19 61.77 L219.69 61.68 L220.18 61.61 L220.68 61.56 L221.18 61.53 L221.68 61.51 L222.17 61.49 L222.67 61.47 L223.17 61.45 L223.66 61.44 L224.16 61.42 L224.66 61.41 L225.16 61.40 L225.65 61.39 L226.15 61.38 L226.65 61.37 L227.15 61.37 L227.64 61.37 L228.14 61.37 L228.64 61.37 L229.14 61.37 L229.63 61.37 L230.13 61.37 L230.63 61.37 L231.12 61.38 L231.62 61.38 L232.12 61.38 L232.62 61.38 L233.11 61.39 L233.61 61.39 L234.11 61.39 L234.61 61.40 L235.10 61.40 L235.60 61.41 L236.10 61.41 L236.59 61.42 L237.09 61.42 L237.59 61.43 L238.09 61.43 L238.58 61.44 L239.08 61.44 L239.58 61.45 L240.08 61.46 L240.57 61.46 L241.07 61.47 L241.57 61.47 L242.06 61.48 L242.56 61.49 L243.06 61.49 L243.56 61.50 L244.05 61.51 L244.55 61.52 L245.05 61.52 L245.55 61.53 L246.04 61.54 L246.54 61.55 L247.04 61.55 L247.54 61.56 L248.03 61.57 L248.53 61.58 L249.03 61.59 L249.52 61.59 L250.02 61.60 L250.52 61.61 L251.02 61.62 L251.51 61.62 L252.01 61.63 L252.51 61.64 L253.01 61.65 L253.50 61.66 L254.00 61.66 L254.50 61.67 L254.99 61.68 L255.49 61.69 L255.99 61.69 L256.49 61.70 L256.98 61.71 L257.48 61.72 L257.98 61.72 L258.48 61.73 L258.97 61.74 L259.47 61.74 L259.97 61.75 L260.46 61.76 L260.96 61.76 L261.46 61.77 L261.96 61.78 L262.45 61.78 L262.95 61.79 L263.45 61.79 L263.95 61.80 L264.44 61.80 L264.94 61.81 L265.44 61.82 L265.94 61.82 L266.43 61.83 L266.93 61.83 L267.43 61.84 L267.92 61.84 L268.42 61.85 L268.92 61.85 L269.42 61.86 L269.91 61.86 L270.41 61.87 L270.91 61.88 L271.41 61.88 L271.90 61.89 L272.40 61.89 L272.90 61.90 L273.39 61.90 L273.89 61.91 L274.39 61.91 L274.89 61.92 L275.38 61.92 L275.88 61.93 L276.38 61.94 L276.88 61.94 L277.37 61.95 L277.87 61.95 L278.37 61.96 L278.86 61.96 L279.36 61.97 L279.86 61.97 L280.36 61.98 L280.85 61.98 L281.35 61.99 L281.85 62.00 L282.35 62.00 L282.84 62.01 L283.34 62.01 L283.84 62.02 L284.34 62.02 L284.83 62.03 L285.33 62.03 L285.83 62.04 L286.32 62.04 L286.82 62.05 L287.32 62.05 L287.82 62.06 L288.31 62.06 L288.81 62.07 L289.31 62.07 L289.81 62.08 L290.30 62.09 L290.80 62.09 L291.30 62.10 L291.79 62.10 L292.29 62.11 L292.79 62.11 L293.29 62.12 L293.78 62.12 L294.28 62.13 L294.78 62.13 L295.28 62.14 L295.77 62.14 L296.27 62.15 L296.77 62.15 L297.26 62.16 L297.76 62.16 L298.26 62.17 L298.76 62.17 L299.25 62.18 L299.75 62.18 L300.25 62.19 L300.75 62.19 L301.24 62.20 L301.74 62.20 L302.24 62.21 L302.74 62.21 L303.23 62.22 L303.73 62.22 L304.23 62.23 L304.72 62.23 L305.22 62.24 L305.72 62.25 L306.22 62.25 L306.71 62.26 L307.21 62.26 L307.71 62.27 L308.21 62.27 L308.70 62.28 L309.20 62.28 L309.70 62.29 L310.19 62.29 L310.69 62.30 L311.19 62.30 L311.69 62.31 L312.18 62.31 L312.68 62.31 L313.18 62.32 L313.68 62.32 L314.17 62.33 L314.67 62.33 L315.17 62.34 L315.66 62.34 L316.16 62.35 L316.66 62.35 L317.16 62.36 L317.65 62.36 L318.15 62.37 L318.65 62.37 L319.15 62.38 L319.64 62.38 L320.14 62.39 L320.64 62.39 L321.14 62.40 L321.63 62.40 L322.13 62.41 L322.63 62.41 L323.12 62.42 L323.62 62.42 L324.12 62.43 L324.62 62.43 L325.11 62.44 L325.61 62.44 L326.11 62.45 L326.61 62.45 L327.10 62.45 L327.60 62.46" stroke="#00ff00" stroke-width="1.08" fill="none" stroke-dasharray="3 1.4"/>
<path d="M198.80 80.00 L199.30 79.42 L199.79 78.82 L200.29 78.19 L200.79 77.54 L201.29 76.87 L201.78 76.17 L202.28 75.45 L202.78 74.66 L203.28 73.83 L203.77 72.98 L204.27 72.16 L204.77 71.39 L205.26 70.69 L205.76 70.01 L206.26 69.34 L206.76 68.69 L207.25 68.06 L207.75 67.45 L208.25 66.86 L208.75 66.29 L209.24 65.74 L209.74 65.22 L210.24 64.72 L210.74 64.24 L211.23 63.78 L211.73 63.32 L212.23 62.88 L212.72 62.46 L213.22 62.05 L213.72 61.66 L214.22 61.29 L214.71 60.95 L215.21 60.62 L215.71 60.32 L216.21 60.03 L216.70 59.76 L217.20 59.49 L217.70 59.24 L218.19 59.00 L218.69 58.77 L219.19 58.55 L219.69 58.35 L220.18 58.16 L220.68 57.99 L221.18 57.83 L221.68 57.67 L222.17 57.52 L222.67 57.38 L223.17 57.24 L223.66 57.11 L224.16 56.99 L224.66 56.88 L225.16 56.78 L225.65 56.70 L226.15 56.63 L226.65 56.57 L227.15 56.51 L227.64 56.46 L228.14 56.40 L228.64 56.35 L229.14 56.31 L229.63 56.26 L230.13 56.22 L230.63 56.18 L231.12 56.15 L231.62 56.12 L232.12 56.10 L232.62 56.08 L233.11 56.07 L233.61 56.07 L234.11 56.07 L234.61 56.07 L235.10 56.07 L235.60 56.07 L236.10 56.07 L236.59 56.08 L237.09 56.08 L237.59 56.08 L238.09 56.08 L238.58 56.09 L239.08 56.09 L239.58 56.10 L240.08 56.10 L240.57 56.11 L241.07 56.11 L241.57 56.12 L242.06 56.13 L242.56 56.13 L243.06 56.14 L243.56 56.15 L244.05 56.15 L244.55 56.16 L245.05 56.17 L245.55 56.18 L246.04 56.18 L246.54 56.19 L247.04 56.20 L247.54 56.21 L248.03 56.22 L248.53 56.22 L249.03 56.23 L249.52 56.24 L250.02 56.25 L250.52 56.26 L251.02 56.27 L251.51 56.28 L252.01 56.29 L252.51 56.30 L253.01 56.30 L253.50 56.31 L254.00 56.32 L254.50 56.33 L254.99 56.34 L255.49 56.35 L255.99 56.36 L256.49 56.37 L256.98 56.37 L257.48 56.38 L257.98 56.39 L258.48 56.40 L258.97 56.41 L259.47 56.41 L259.97 56.42 L260.46 56.43 L260.96 56.44 L261.46 56.44 L261.96 56.45 L262.45 56.45 L262.95 56.46 L263.45 56.47 L263.95 56.47 L264.44 56.48 L264.94 56.48 L265.44 56.49 L265.94 56.49 L266.43 56.50 L266.93 56.51 L267.43 56.51 L267.92 56.52 L268.42 56.52 L268.92 56.53 L269.42 56.53 L269.91 56.54 L270.41 56.55 L270.91 56.55 L271.41 56.56 L271.90 56.56 L272.40 56.57 L272.90 56.57 L273.39 56.58 L273.89 56.58 L274.39 56.59 L274.89 56.60 L275.38 56.60 L275.88 56.61 L276.38 56.61 L276.88 56.62 L277.37 56.62 L277.87 56.63 L278.37 56.63 L278.86 56.64 L279.36 56.64 L279.86 56.65 L280.36 56.65 L280.85 56.66 L281.35 56.67 L281.85 56.67 L282.35 56.68 L282.84 56.68 L283.34 56.69 L283.84 56.69 L284.34 56.70 L284.83 56.70 L285.33 56.71 L285.83 56.71 L286.32 56.72 L286.82 56.72 L287.32 56.73 L287.82 56.73 L288.31 56.74 L288.81 56.74 L289.31 56.75 L289.81 56.75 L290.30 56.76 L290.80 56.76 L291.30 56.77 L291.79 56.77 L292.29 56.78 L292.79 56.78 L293.29 56.79 L293.78 56.79 L294.28 56.80 L294.78 56.80 L295.28 56.81 L295.77 56.81 L296.27 56.82 L296.77 56.82 L297.26 56.83 L297.76 56.83 L298.26 56.84 L298.76 56.84 L299.25 56.85 L299.75 56.85 L300.25 56.86 L300.75 56.86 L301.24 56.87 L301.74 56.87 L302.24 56.87 L302.74 56.88 L303.23 56.88 L303.73 56.89 L304.23 56.89 L304.72 56.90 L305.22 56.90 L305.72 56.91 L306.22 56.91 L306.71 56.92 L307.21 56.92 L307.71 56.92 L308.21 56.93 L308.70 56.93 L309.20 56.94 L309.70 56.94 L310.19 56.95 L310.69 56.95 L311.19 56.95 L311.69 56.96 L312.18 56.96 L312.68 56.97 L313.18 56.97 L313.68 56.98 L314.17 56.98 L314.67 56.98 L315.17 56.99 L315.66 56.99 L316.16 57.00 L316.66 57.00 L317.16 57.00 L317.65 57.01 L318.15 57.01 L318.65 57.02 L319.15 57.02 L319.64 57.02 L320.14 57.03 L320.64 57.03 L321.14 57.04 L321.63 57.04 L322.13 57.04 L322.63 57.05 L323.12 57.05 L323.62 57.05 L324.12 57.06 L324.62 57.06 L325.11 57.07 L325.61 57.07 L326.11 57.07 L326.61 57.08 L327.10 57.08 L327.60 57.08" stroke="#0000ff" stroke-width="1.08" fill="none" stroke-dasharray="1.6 2.06"/>
<path d="M198.80 80.00 L199.30 79.45 L199.79 78.86 L200.29 78.24 L200.79 77.57 L201.29 76.87 L201.78 76.14 L202.28 75.37 L202.78 74.51 L203.28 73.58 L203.77 72.62 L204.27 71.68 L204.77 70.81 L205.26 70.02 L205.76 69.27 L206.26 68.54 L206.76 67.83 L207.25 67.14 L207.75 66.46 L208.25 65.81 L208.75 65.17 L209.24 64.55 L209.74 63.94 L210.24 63.34 L210.74 62.76 L211.23 62.18 L211.73 61.61 L212.23 61.05 L212.72 60.51 L213.22 59.98 L213.72 59.47 L214.22 58.97 L214.71 58.50 L215.21 58.05 L215.71 57.62 L216.21 57.21 L216.70 56.82 L217.20 56.44 L217.70 56.08 L218.19 55.73 L218.69 55.39 L219.19 55.05 L219.69 54.73 L220.18 54.42 L220.68 54.10 L221.18 53.80 L221.68 53.50 L222.17 53.20 L222.67 52.91 L223.17 52.62 L223.66 52.34 L224.16 52.07 L224.66 51.81 L225.16 51.56 L225.65 51.32 L226.15 51.09 L226.65 50.87 L227.15 50.66 L227.64 50.45 L228.14 50.24 L228.64 50.05 L229.14 49.86 L229.63 49.69 L230.13 49.53 L230.63 49.38 L231.12 49.25 L231.62 49.12 L232.12 48.98 L232.62 48.85 L233.11 48.72 L233.61 48.60 L234.11 48.48 L234.61 48.37 L235.10 48.27 L235.60 48.19 L236.10 48.12 L236.59 48.07 L237.09 48.05 L237.59 48.04 L238.09 48.04 L238.58 48.04 L239.08 48.04 L239.58 48.04 L240.08 48.04 L240.57 48.04 L241.07 48.04 L241.57 48.04 L242.06 48.04 L242.56 48.04 L243.06 48.04 L243.56 48.04 L244.05 48.04 L244.55 48.04 L245.05 48.04 L245.55 48.04 L246.04 48.04 L246.54 48.04 L247.04 48.04 L247.54 48.04 L248.03 48.04 L248.53 48.04 L249.03 48.04 L249.52 48.04 L250.02 48.04 L250.52 48.04 L251.02 48.04 L251.51 48.04 L252.01 48.04 L252.51 48.04 L253.01 48.04 L253.50 48.04 L254.00 48.04 L254.50 48.04 L254.99 48.04 L255.49 48.04 L255.99 48.04 L256.49 48.04 L256.98 48.04 L257.48 48.04 L257.98 48.04 L258.48 48.04 L258.97 48.04 L259.47 48.04 L259.97 48.04 L260.46 48.04 L260.96 48.04 L261.46 48.04 L261.96 48.04 L262.45 48.04 L262.95 48.04 L263.45 48.04 L263.95 48.04 L264.44 48.04 L264.94 48.04 L265.44 48.04 L265.94 48.04 L266.43 48.04 L266.93 48.04 L267.43 48.04 L267.92 48.05 L268.42 48.05 L268.92 48.05 L269.42 48.05 L269.91 48.05 L270.41 48.05 L270.91 48.05 L271.41 48.06 L271.90 48.06 L272.40 48.06 L272.90 48.06 L273.39 48.06 L273.89 48.07 L274.39 48.07 L274.89 48.07 L275.38 48.07 L275.88 48.08 L276.38 48.08 L276.88 48.08 L277.37 48.08 L277.87 48.09 L278.37 48.09 L278.86 48.09 L279.36 48.10 L279.86 48.10 L280.36 48.10 L280.85 48.11 L281.35 48.11 L281.85 48.12 L282.35 48.12 L282.84 48.12 L283.34 48.13 L283.84 48.13 L284.34 48.14 L284.83 48.14 L285.33 48.14 L285.83 48.15 L286.32 48.15 L286.82 48.16 L287.32 48.16 L287.82 48.17 L288.31 48.17 L288.81 48.18 L289.31 48.18 L289.81 48.19 L290.30 48.19 L290.80 48.20 L291.30 48.20 L291.79 48.21 L292.29 48.22 L292.79 48.22 L293.29 48.23 L293.78 48.23 L294.28 48.24 L294.78 48.24 L295.28 48.25 L295.77 48.26 L296.27 48.26 L296.77 48.27 L297.26 48.28 L297.76 48.28 L298.26 48.29 L298.76 48.30 L299.25 48.30 L299.75 48.31 L300.25 48.32 L300.75 48.32 L301.24 48.33 L301.74 48.34 L302.24 48.34 L302.74 48.35 L303.23 48.36 L303.73 48.37 L304.23 48.37 L304.72 48.38 L305.22 48.39 L305.72 48.40 L306.22 48.40 L306.71 48.41 L307.21 48.42 L307.71 48.43 L308.21 48.43 L308.70 48.44 L309.20 48.45 L309.70 48.46 L310.19 48.47 L310.69 48.47 L311.19 48.48 L311.69 48.49 L312.18 48.50 L312.68 48.51 L313.18 48.52 L313.68 48.53 L314.17 48.53 L314.67 48.54 L315.17 48.55 L315.66 48.56 L316.16 48.57 L316.66 48.58 L317.16 48.59 L317.65 48.60 L318.15 48.60 L318.65 48.61 L319.15 48.62 L319.64 48.63 L320.14 48.64 L320.64 48.65 L321.14 48.66 L321.63 48.67 L322.13 48.68 L322.63 48.69 L323.12 48.70 L323.62 48.71 L324.12 48.72 L324.62 48.73 L325.11 48.73 L325.61 48.74 L326.11 48.75 L326.61 48.76 L327.10 48.77 L327.60 48.78" stroke="#ff00ff" stroke-width="1.08" fill="none" stroke-dasharray="0.75 1.08"/>
<path d="M198.80 80.00 L199.30 79.48 L199.79 78.91 L200.29 78.28 L200.79 77.61 L201.29 76.90 L201.78 76.15 L202.28 75.36 L202.78 74.45 L203.28 73.46 L203.77 72.43 L204.27 71.42 L204.77 70.47 L205.26 69.61 L205.76 68.80 L206.26 68.00 L206.76 67.23 L207.25 66.47 L207.75 65.74 L208.25 65.02 L208.75 64.31 L209.24 63.61 L209.74 62.92 L210.24 62.24 L210.74 61.57 L211.23 60.90 L211.73 60.24 L212.23 59.60 L212.72 58.96 L213.22 58.34 L213.72 57.72 L214.22 57.11 L214.71 56.52 L215.21 55.93 L215.71 55.36 L216.21 54.79 L216.70 54.23 L217.20 53.68 L217.70 53.13 L218.19 52.59 L218.69 52.06 L219.19 51.54 L219.69 51.03 L220.18 50.53 L220.68 50.04 L221.18 49.56 L221.68 49.08 L222.17 48.61 L222.67 48.14 L223.17 47.67 L223.66 47.21 L224.16 46.75 L224.66 46.29 L225.16 45.84 L225.65 45.39 L226.15 44.96 L226.65 44.53 L227.15 44.11 L227.64 43.71 L228.14 43.31 L228.64 42.93 L229.14 42.56 L229.63 42.21 L230.13 41.87 L230.63 41.55 L231.12 41.24 L231.62 40.93 L232.12 40.62 L232.62 40.32 L233.11 40.03 L233.61 39.74 L234.11 39.45 L234.61 39.18 L235.10 38.91 L235.60 38.66 L236.10 38.41 L236.59 38.17 L237.09 37.95 L237.59 37.74 L238.09 37.54 L238.58 37.35 L239.08 37.18 L239.58 37.03 L240.08 36.89 L240.57 36.75 L241.07 36.61 L241.57 36.48 L242.06 36.35 L242.56 36.23 L243.06 36.11 L243.56 36.00 L244.05 35.89 L244.55 35.78 L245.05 35.69 L245.55 35.59 L246.04 35.51 L246.54 35.43 L247.04 35.35 L247.54 35.29 L248.03 35.23 L248.53 35.17 L249.03 35.13 L249.52 35.08 L250.02 35.04 L250.52 34.99 L251.02 34.95 L251.51 34.91 L252.01 34.87 L252.51 34.83 L253.01 34.80 L253.50 34.77 L254.00 34.74 L254.50 34.71 L254.99 34.69 L255.49 34.68 L255.99 34.67 L256.49 34.66 L256.98 34.66 L257.48 34.66 L257.98 34.66 L258.48 34.67 L258.97 34.67 L259.47 34.67 L259.97 34.68 L260.46 34.68 L260.96 34.68 L261.46 34.69 L261.96 34.70 L262.45 34.70 L262.95 34.71 L263.45 34.72 L263.95 34.72 L264.44 34.73 L264.94 34.74 L265.44 34.75 L265.94 34.76 L266.43 34.77 L266.93 34.78 L267.43 34.79 L267.92 34.80 L268.42 34.81 L268.92 34.82 L269.42 34.83 L269.91 34.84 L270.41 34.85 L270.91 34.86 L271.41 34.88 L271.90 34.89 L272.40 34.90 L272.90 34.91 L273.39 34.92 L273.89 34.94 L274.39 34.95 L274.89 34.96 L275.38 34.97 L275.88 34.99 L276.38 35.00 L276.88 35.01 L277.37 35.02 L277.87 35.03 L278.37 35.04 L278.86 35.06 L279.36 35.07 L279.86 35.08 L280.36 35.09 L280.85 35.10 L281.35 35.11 L281.85 35.12 L282.35 35.13 L282.84 35.14 L283.34 35.15 L283.84 35.16 L284.34 35.17 L284.83 35.18 L285.33 35.18 L285.83 35.19 L286.32 35.20 L286.82 35.21 L287.32 35.22 L287.82 35.23 L288.31 35.24 L288.81 35.25 L289.31 35.25 L289.81 35.26 L290.30 35.27 L290.80 35.28 L291.30 35.29 L291.79 35.30 L292.29 35.31 L292.79 35.32 L293.29 35.32 L293.78 35.33 L294.28 35.34 L294.78 35.35 L295.28 35.36 L295.77 35.37 L296.27 35.38 L296.77 35.38 L297.26 35.39 L297.76 35.40 L298.26 35.41 L298.76 35.42 L299.25 35.43 L299.75 35.44 L300.25 35.44 L300.75 35.45 L301.24 35.46 L301.74 35.47 L302.24 35.48 L302.74 35.49 L303.23 35.50 L303.73 35.50 L304.23 35.51 L304.72 35.52 L305.22 35.53 L305.72 35.54 L306.22 35.55 L306.71 35.55 L307.21 35.56 L307.71 35.57 L308.21 35.58 L308.70 35.59 L309.20 35.60 L309.70 35.61 L310.19 35.61 L310.69 35.62 L311.19 35.63 L311.69 35.64 L312.18 35.65 L312.68 35.66 L313.18 35.66 L313.68 35.67 L314.17 35.68 L314.67 35.69 L315.17 35.70 L315.66 35.71 L316.16 35.71 L316.66 35.72 L317.16 35.73 L317.65 35.74 L318.15 35.75 L318.65 35.75 L319.15 35.76 L319.64 35.77 L320.14 35.78 L320.64 35.79 L321.14 35.80 L321.63 35.80 L322.13 35.81 L322.63 35.82 L323.12 35.83 L323.62 35.84 L324.12 35.84 L324.62 35.85 L325.11 35.86 L325.61 35.87 L326.11 35.88 L326.61 35.88 L327.10 35.89 L327.60 35.90" stroke="#00ffff" stroke-width="1.08" fill="none" stroke-dasharray="4.4 1.2 1.2 1.2"/>
<path d="M198.80 80.00 L199.30 79.50 L199.79 78.93 L200.29 78.31 L200.79 77.64 L201.29 76.92 L201.78 76.16 L202.28 75.35 L202.78 74.42 L203.28 73.39 L203.77 72.32 L204.27 71.26 L204.77 70.25 L205.26 69.33 L205.76 68.44 L206.26 67.57 L206.76 66.72 L207.25 65.89 L207.75 65.07 L208.25 64.26 L208.75 63.45 L209.24 62.65 L209.74 61.84 L210.24 61.02 L210.74 60.20 L211.23 59.37 L211.73 58.55 L212.23 57.73 L212.72 56.91 L213.22 56.09 L213.72 55.28 L214.22 54.48 L214.71 53.67 L215.21 52.88 L215.71 52.09 L216.21 51.31 L216.70 50.54 L217.20 49.76 L217.70 48.99 L218.19 48.23 L218.69 47.47 L219.19 46.71 L219.69 45.96 L220.18 45.22 L220.68 44.49 L221.18 43.76 L221.68 43.03 L222.17 42.30 L222.67 41.56 L223.17 40.82 L223.66 40.08 L224.16 39.34 L224.66 38.60 L225.16 37.87 L225.65 37.15 L226.15 36.44 L226.65 35.75 L227.15 35.08 L227.64 34.43 L228.14 33.80 L228.64 33.20 L229.14 32.64 L229.63 32.10 L230.13 31.58 L230.63 31.07 L231.12 30.56 L231.62 30.07 L232.12 29.58 L232.62 29.11 L233.11 28.64 L233.61 28.19 L234.11 27.75 L234.61 27.32 L235.10 26.91 L235.60 26.51 L236.10 26.13 L236.59 25.76 L237.09 25.40 L237.59 25.07 L238.09 24.75 L238.58 24.45 L239.08 24.17 L239.58 23.89 L240.08 23.62 L240.57 23.36 L241.07 23.10 L241.57 22.84 L242.06 22.59 L242.56 22.35 L243.06 22.11 L243.56 21.87 L244.05 21.63 L244.55 21.40 L245.05 21.18 L245.55 20.96 L246.04 20.74 L246.54 20.53 L247.04 20.32 L247.54 20.11 L248.03 19.91 L248.53 19.71 L249.03 19.51 L249.52 19.32 L250.02 19.13 L250.52 18.95 L251.02 18.77 L251.51 18.59 L252.01 18.41 L252.51 18.24 L253.01 18.07 L253.50 17.90 L254.00 17.74 L254.50 17.58 L254.99 17.42 L255.49 17.26 L255.99 17.11 L256.49 16.96 L256.98 16.81 L257.48 16.66 L257.98 16.52 L258.48 16.37 L258.97 16.23 L259.47 16.10 L259.97 15.96 L260.46 15.82 L260.96 15.69 L261.46 15.56 L261.96 15.43 L262.45 15.30 L262.95 15.17 L263.45 15.04 L263.95 14.91 L264.44 14.78 L264.94 14.65 L265.44 14.53 L265.94 14.40 L266.43 14.27 L266.93 14.15 L267.43 14.02 L267.92 13.90 L268.42 13.78 L268.92 13.66 L269.42 13.54 L269.91 13.43 L270.41 13.31 L270.91 13.20 L271.41 13.08 L271.90 12.97 L272.40 12.87 L272.90 12.76 L273.39 12.66 L273.89 12.55 L274.39 12.45 L274.89 12.36 L275.38 12.26 L275.88 12.17 L276.38 12.08 L276.88 12.00 L277.37 11.91 L277.87 11.83 L278.37 11.75 L278.86 11.68 L279.36 11.61 L279.86 11.54 L280.36 11.47 L280.85 11.41 L281.35 11.35 L281.85 11.30 L282.35 11.25 L282.84 11.20 L283.34 11.16 L283.84 11.12 L284.34 11.08 L284.83 11.05 L285.33 11.01 L285.83 10.97 L286.32 10.94 L286.82 10.90 L287.32 10.87 L287.82 10.83 L288.31 10.80 L288.81 10.77 L289.31 10.73 L289.81 10.70 L290.30 10.67 L290.80 10.64 L291.30 10.61 L291.79 10.58 L292.29 10.55 L292.79 10.52 L293.29 10.49 L293.78 10.46 L294.28 10.44 L294.78 10.41 L295.28 10.39 L295.77 10.36 L296.27 10.34 L296.77 10.32 L297.26 10.30 L297.76 10.28 L298.26 10.26 L298.76 10.25 L299.25 10.23 L299.75 10.21 L300.25 10.20 L300.75 10.19 L301.24 10.18 L301.74 10.17 L302.24 10.16 L302.74 10.15 L303.23 10.14 L303.73 10.14 L304.23 10.14 L304.72 10.13 L305.22 10.13 L305.72 10.13 L306.22 10.13 L306.71 10.13 L307.21 10.13 L307.71 10.13 L308.21 10.13 L308.70 10.13 L309.20 10.13 L309.70 10.13 L310.19 10.13 L310.69 10.13 L311.19 10.13 L311.69 10.13 L312.18 10.13 L312.68 10.13 L313.18 10.13 L313.68 10.13 L314.17 10.13 L314.67 10.13 L315.17 10.13 L315.66 10.13 L316.16 10.13 L316.66 10.13 L317.16 10.13 L317.65 10.13 L318.15 10.13 L318.65 10.13 L319.15 10.13 L319.64 10.13 L320.14 10.13 L320.64 10.13 L321.14 10.13 L321.63 10.13 L322.13 10.13 L322.63 10.13 L323.12 10.13 L323.62 10.13 L324.12 10.13 L324.62 10.13 L325.11 10.13 L325.61 10.13 L326.11 10.13 L326.61 10.13 L327.10 10.13 L327.60 10.13" stroke="#ffff00" stroke-width="1.08" fill="none" stroke-dasharray="2.7 1.9 0.9 1.9"/>
<path d="M198.80 80.00 L199.30 79.51 L199.79 78.95 L200.29 78.32 L200.79 77.64 L201.29 76.91 L201.78 76.14 L202.28 75.32 L202.78 74.36 L203.28 73.30 L203.77 72.18 L204.27 71.08 L204.77 70.02 L205.26 69.06 L205.76 68.14 L206.26 67.25 L206.76 66.39 L207.25 65.54 L207.75 64.69 L208.25 63.85 L208.75 62.99 L209.24 62.12 L209.74 61.22 L210.24 60.29 L210.74 59.32 L211.23 58.33 L211.73 57.32 L212.23 56.29 L212.72 55.25 L213.22 54.19 L213.72 53.12 L214.22 52.05 L214.71 50.97 L215.21 49.89 L215.71 48.82 L216.21 47.72 L216.70 46.61 L217.20 45.48 L217.70 44.34 L218.19 43.19 L218.69 42.03 L219.19 40.86 L219.69 39.71 L220.18 38.55 L220.68 37.41 L221.18 36.27 L221.68 35.16 L222.17 34.07 L222.67 33.00 L223.17 31.96 L223.66 30.95 L224.16 29.97 L224.66 29.02 L225.16 28.08 L225.65 27.16 L226.15 26.26 L226.65 25.37 L227.15 24.50 L227.64 23.64 L228.14 22.79 L228.64 21.95 L229.14 21.12 L229.63 20.29 L230.13 19.48 L230.63 18.67 L231.12 17.86 L231.62 17.06 L232.12 16.27 L232.62 15.49 L233.11 14.71 L233.61 13.95 L234.11 13.19 L234.61 12.43 L235.10 11.69 L235.60 10.95 L236.10 10.21 L236.59 9.49 L237.09 8.77 L237.59 8.05 L238.09 7.35 L238.58 6.64 L239.08 5.95 L239.58 5.25 L240.08 4.57 L240.57 3.89 L241.07 3.23 L241.57 2.58 L242.06 1.94 L242.56 1.33 L243.06 0.73 L243.56 0.14 L244.05 -0.46 L244.55 -1.05 L245.05 -1.64 L245.55 -2.22 L246.04 -2.81 L246.54 -3.39 L247.04 -3.97 L247.54 -4.54 L248.03 -5.11 L248.53 -5.68 L249.03 -6.24 L249.52 -6.80 L250.02 -7.36 L250.52 -7.91 L251.02 -8.45 L251.51 -8.99 L252.01 -9.53 L252.51 -10.06 L253.01 -10.58 L253.50 -11.10 L254.00 -11.61 L254.50 -12.12 L254.99 -12.62 L255.49 -13.11 L255.99 -13.60 L256.49 -14.08 L256.98 -14.55 L257.48 -15.01 L257.98 -15.47 L258.48 -15.92 L258.97 -16.36 L259.47 -16.79 L259.97 -17.21 L260.46 -17.63 L260.96 -18.03 L261.46 -18.43 L261.96 -18.82 L262.45 -19.21 L262.95 -19.60 L263.45 -19.99 L263.95 -20.37 L264.44 -20.75 L264.94 -21.13 L265.44 -21.50 L265.94 -21.87 L266.43 -22.24 L266.93 -22.60 L267.43 -22.97 L267.92 -23.32 L268.42 -23.68 L268.92 -24.03 L269.42 -24.38 L269.91 -24.72 L270.41 -25.06 L270.91 -25.40 L271.41 -25.73 L271.90 -26.06 L272.40 -26.39 L272.90 -26.71 L273.39 -27.02 L273.89 -27.33 L274.39 -27.64 L274.89 -27.94 L275.38 -28.24 L275.88 -28.53 L276.38 -28.82 L276.88 -29.10 L277.37 -29.38 L277.87 -29.66 L278.37 -29.92 L278.86 -30.19 L279.36 -30.44 L279.86 -30.70 L280.36 -30.94 L280.85 -31.18 L281.35 -31.42 L281.85 -31.65 L282.35 -31.87 L282.84 -32.09 L283.34 -32.30 L283.84 -32.50 L284.34 -32.70 L284.83 -32.90 L285.33 -33.10 L285.83 -33.29 L286.32 -33.48 L286.82 -33.67 L287.32 -33.86 L287.82 -34.04 L288.31 -34.22 L288.81 -34.40 L289.31 -34.58 L289.81 -34.75 L290.30 -34.92 L290.80 -35.09 L291.30 -35.25 L291.79 -35.42 L292.29 -35.58 L292.79 -35.74 L293.29 -35.89 L293.78 -36.05 L294.28 -36.20 L294.78 -36.35 L295.28 -36.49 L295.77 -36.64 L296.27 -36.78 L296.77 -36.92 L297.26 -37.06 L297.76 -37.19 L298.26 -37.33 L298.76 -37.46 L299.25 -37.58 L299.75 -37.71 L300.25 -37.83 L300.75 -37.96 L301.24 -38.08 L301.74 -38.19 L302.24 -38.31 L302.74 -38.42 L303.23 -38.53 L303.73 -38.64 L304.23 -38.75 L304.72 -38.85 L305.22 -38.95 L305.72 -39.05 L306.22 -39.16 L306.71 -39.26 L307.21 -39.35 L307.71 -39.45 L308.21 -39.55 L308.70 -39.65 L309.20 -39.74 L309.70 -39.84 L310.19 -39.93 L310.69 -40.03 L311.19 -40.12 L311.69 -40.21 L312.18 -40.30 L312.68 -40.39 L313.18 -40.48 L313.68 -40.57 L314.17 -40.65 L314.67 -40.74 L315.17 -40.82 L315.66 -40.91 L316.16 -40.99 L316.66 -41.07 L317.16 -41.14 L317.65 -41.22 L318.15 -41.30 L318.65 -41.37 L319.15 -41.44 L319.64 -41.51 L320.14 -41.58 L320.64 -41.65 L321.14 -41.71 L321.63 -41.78 L322.13 -41.84 L322.63 -41.90 L323.12 -41.96 L323.62 -42.01 L324.12 -42.07 L324.62 -42.12 L325.11 -42.17 L325.61 -42.22 L326.11 -42.26 L326.61 -42.31 L327.10 -42.35 L327.60 -42.39" stroke="#000000" stroke-width="1.08" fill="none" stroke-dasharray="1.7 1.3 1.7 4.1"/>
<path d="M198.80 80.00 L199.30 79.52 L199.79 78.96 L200.29 78.33 L200.79 77.65 L201.29 76.92 L201.78 76.14 L202.28 75.32 L202.78 74.35 L203.28 73.29 L203.77 72.17 L204.27 71.03 L204.77 69.93 L205.26 68.89 L205.76 67.88 L206.26 66.89 L206.76 65.92 L207.25 64.95 L207.75 63.97 L208.25 62.99 L208.75 61.99 L209.24 60.97 L209.74 59.91 L210.24 58.82 L210.74 57.69 L211.23 56.52 L211.73 55.32 L212.23 54.08 L212.72 52.83 L213.22 51.55 L213.72 50.26 L214.22 48.97 L214.71 47.66 L215.21 46.36 L215.71 45.05 L216.21 43.74 L216.70 42.41 L217.20 41.06 L217.70 39.70 L218.19 38.34 L218.69 36.97 L219.19 35.60 L219.69 34.23 L220.18 32.88 L220.68 31.53 L221.18 30.19 L221.68 28.87 L222.17 27.55 L222.67 26.23 L223.17 24.92 L223.66 23.61 L224.16 22.30 L224.66 21.00 L225.16 19.69 L225.65 18.39 L226.15 17.10 L226.65 15.80 L227.15 14.50 L227.64 13.21 L228.14 11.91 L228.64 10.61 L229.14 9.32 L229.63 8.02 L230.13 6.72 L230.63 5.41 L231.12 4.11 L231.62 2.81 L232.12 1.51 L232.62 0.21 L233.11 -1.09 L233.61 -2.39 L234.11 -3.69 L234.61 -4.99 L235.10 -6.29 L235.60 -7.59 L236.10 -8.89 L236.59 -10.20 L237.09 -11.51 L237.59 -12.83 L238.09 -14.15 L238.58 -15.47 L239.08 -16.80 L239.58 -18.16 L240.08 -19.54 L240.57 -20.93 L241.07 -22.31 L241.57 -23.67 L242.06 -25.01 L242.56 -26.29 L243.06 -27.54 L243.56 -28.79 L244.05 -30.02 L244.55 -31.26 L245.05 -32.48 L245.55 -33.70 L246.04 -34.91 L246.54 -36.11 L247.04 -37.31 L247.54 -38.50 L248.03 -39.69 L248.53 -40.86 L249.03 -42.03 L249.52 -43.20 L250.02 -44.35 L250.52 -45.50 L251.02 -46.64 L251.51 -47.78 L252.01 -48.91 L252.51 -50.03 L253.01 -51.14 L253.50 -52.24 L254.00 -53.34 L254.50 -54.43 L254.99 -55.51 L255.49 -56.59 L255.99 -57.65 L256.49 -58.71 L256.98 -59.76 L257.48 -60.80 L257.98 -61.84 L258.48 -62.86 L258.97 -63.88 L259.47 -64.89 L259.97 -65.89 L260.46 -66.88 L260.96 -67.86 L261.46 -68.84 L261.96 -69.80 L262.45 -70.77 L262.95 -71.73 L263.45 -72.69 L263.95 -73.65 L264.44 -74.60 L264.94 -75.54 L265.44 -76.48 L265.94 -77.42 L266.43 -78.36 L266.93 -79.28 L267.43 -80.21 L267.92 -81.13 L268.42 -82.04 L268.92 -82.95 L269.42 -83.85 L269.91 -84.75 L270.41 -85.64 L270.91 -86.53 L271.41 -87.41 L271.90 -88.28 L272.40 -89.15 L272.90 -90.01 L273.39 -90.87 L273.89 -91.72 L274.39 -92.56 L274.89 -93.40 L275.38 -94.23 L275.88 -95.05 L276.38 -95.86 L276.88 -96.67 L277.37 -97.47 L277.87 -98.26 L278.37 -99.05 L278.86 -99.83 L279.36 -100.59 L279.86 -101.36 L280.36 -102.11 L280.85 -102.85 L281.35 -103.59 L281.85 -104.32 L282.35 -105.03 L282.84 -105.74 L283.34 -106.45 L283.84 -107.14 L284.34 -107.82 L284.83 -108.50 L285.33 -109.18 L285.83 -109.85 L286.32 -110.52 L286.82 -111.18 L287.32 -111.84 L287.82 -112.49 L288.31 -113.14 L288.81 -113.78 L289.31 -114.42 L289.81 -115.05 L290.30 -115.68 L290.80 -116.31 L291.30 -116.93 L291.79 -117.54 L292.29 -118.15 L292.79 -118.75 L293.29 -119.35 L293.78 -119.95 L294.28 -120.54 L294.78 -121.12 L295.28 -121.70 L295.77 -122.27 L296.27 -122.84 L296.77 -123.41 L297.26 -123.96 L297.76 -124.52 L298.26 -125.07 L298.76 -125.61 L299.25 -126.15 L299.75 -126.68 L300.25 -127.20 L300.75 -127.72 L301.24 -128.24 L301.74 -128.75 L302.24 -129.25 L302.74 -129.75 L303.23 -130.25 L303.73 -130.74 L304.23 -131.22 L304.72 -131.70 L305.22 -132.17 L305.72 -132.63 L306.22 -133.09 L306.71 -133.55 L307.21 -134.00 L307.71 -134.45 L308.21 -134.90 L308.70 -135.34 L309.20 -135.78 L309.70 -136.22 L310.19 -136.66 L310.69 -137.09 L311.19 -137.52 L311.69 -137.94 L312.18 -138.36 L312.68 -138.78 L313.18 -139.20 L313.68 -139.61 L314.17 -140.02 L314.67 -140.42 L315.17 -140.82 L315.66 -141.22 L316.16 -141.61 L316.66 -142.00 L317.16 -142.38 L317.65 -142.76 L318.15 -143.14 L318.65 -143.51 L319.15 -143.88 L319.64 -144.24 L320.14 -144.60 L320.64 -144.95 L321.14 -145.30 L321.63 -145.65 L322.13 -145.99 L322.63 -146.33 L323.12 -146.66 L323.62 -146.98 L324.12 -147.31 L324.62 -147.62 L325.11 -147.93 L325.61 -148.24 L326.11 -148.54 L326.61 -148.84 L327.10 -149.13 L327.60 -149.42" stroke="#ff4d00" stroke-width="1.08" fill="none" stroke-dasharray="4.4 1.2 1.0 1.2 1.0 1.2"/>
<path d="M198.80 80.00 L199.30 79.52 L199.79 78.96 L200.29 78.34 L200.79 77.66 L201.29 76.92 L201.78 76.15 L202.28 75.32 L202.78 74.36 L203.28 73.31 L203.77 72.20 L204.27 71.05 L204.77 69.90 L205.26 68.79 L205.76 67.68 L206.26 66.57 L206.76 65.45 L207.25 64.32 L207.75 63.17 L208.25 62.01 L208.75 60.82 L209.24 59.61 L209.74 58.38 L210.24 57.11 L210.74 55.80 L211.23 54.44 L211.73 53.05 L212.23 51.62 L212.72 50.17 L213.22 48.69 L213.72 47.21 L214.22 45.72 L214.71 44.24 L215.21 42.76 L215.71 41.31 L216.21 39.86 L216.70 38.41 L217.20 36.97 L217.70 35.51 L218.19 34.05 L218.69 32.58 L219.19 31.11 L219.69 29.61 L220.18 28.13 L220.68 26.64 L221.18 25.15 L221.68 23.67 L222.17 22.18 L222.67 20.70 L223.17 19.21 L223.66 17.71 L224.16 16.21 L224.66 14.71 L225.16 13.19 L225.65 11.67 L226.15 10.14 L226.65 8.60 L227.15 7.05 L227.64 5.49 L228.14 3.91 L228.64 2.32 L229.14 0.71 L229.63 -0.91 L230.13 -2.56 L230.63 -4.22 L231.12 -5.90 L231.62 -7.62 L232.12 -9.40 L232.62 -11.22 L233.11 -13.07 L233.61 -14.95 L234.11 -16.85 L234.61 -18.76 L235.10 -20.68 L235.60 -22.59 L236.10 -24.49 L236.59 -26.38 L237.09 -28.23 L237.59 -30.05 L238.09 -31.83 L238.58 -33.57 L239.08 -35.24 L239.58 -36.83 L240.08 -38.37 L240.57 -39.87 L241.07 -41.36 L241.57 -42.87 L242.06 -44.42 L242.56 -46.04 L243.06 -47.72 L243.56 -49.44 L244.05 -51.18 L244.55 -52.95 L245.05 -54.74 L245.55 -56.56 L246.04 -58.40 L246.54 -60.25 L247.04 -62.13 L247.54 -64.02 L248.03 -65.93 L248.53 -67.86 L249.03 -69.80 L249.52 -71.76 L250.02 -73.72 L250.52 -75.70 L251.02 -77.69 L251.51 -79.68 L252.01 -81.69 L252.51 -83.70 L253.01 -85.71 L253.50 -87.73 L254.00 -89.75 L254.50 -91.77 L254.99 -93.79 L255.49 -95.81 L255.99 -97.83 L256.49 -99.85 L256.98 -101.86 L257.48 -103.86 L257.98 -105.86 L258.48 -107.85 L258.97 -109.83 L259.47 -111.80 L259.97 -113.76 L260.46 -115.71 L260.96 -117.64 L261.46 -119.56 L261.96 -121.47 L262.45 -123.37 L262.95 -125.28 L263.45 -127.18 L263.95 -129.08 L264.44 -130.98 L264.94 -132.88 L265.44 -134.78 L265.94 -136.67 L266.43 -138.56 L266.93 -140.46 L267.43 -142.35 L267.92 -144.23 L268.42 -146.12 L268.92 -148.01 L269.42 -149.89 L269.91 -151.78 L270.41 -153.66 L270.91 -155.54 L271.41 -157.42 L271.90 -159.30 L272.40 -161.18 L272.90 -163.06 L273.39 -164.94 L273.89 -166.82 L274.39 -168.70 L274.89 -170.57 L275.38 -172.45 L275.88 -174.33 L276.38 -176.20 L276.88 -178.08 L277.37 -179.96 L277.87 -181.84 L278.37 -183.71 L278.86 -185.59 L279.36 -187.47 L279.86 -189.35 L280.36 -191.23 L280.85 -193.11 L281.35 -194.99 L281.85 -196.87 L282.35 -198.75 L282.84 -200.64 L283.34 -202.52 L283.84 -204.40 L284.34 -206.29 L284.83 -208.18 L285.33 -210.07 L285.83 -211.97 L286.32 -213.86 L286.82 -215.76 L287.32 -217.65 L287.82 -219.55 L288.31 -221.45 L288.81 -223.35 L289.31 -225.26 L289.81 -227.16 L290.30 -229.06 L290.80 -230.96 L291.30 -232.87 L291.79 -234.77 L292.29 -236.67 L292.79 -238.58 L293.29 -240.48 L293.78 -242.38 L294.28 -244.28 L294.78 -246.18 L295.28 -248.08 L295.77 -249.98 L296.27 -251.87 L296.77 -253.77 L297.26 -255.66 L297.76 -257.55 L298.26 -259.44 L298.76 -261.33 L299.25 -263.21 L299.75 -265.09 L300.25 -266.97 L300.75 -268.85 L301.24 -270.72 L301.74 -272.59 L302.24 -274.46 L302.74 -276.32 L303.23 -278.18 L303.73 -280.04 L304.23 -281.89 L304.72 -283.74 L305.22 -285.58 L305.72 -287.42 L306.22 -289.26 L306.71 -291.09 L307.21 -292.92 L307.71 -294.74 L308.21 -296.57 L308.70 -298.39 L309.20 -300.21 L309.70 -302.03 L310.19 -303.84 L310.69 -305.66 L311.19 -307.47 L311.69 -309.28 L312.18 -311.08 L312.68 -312.89 L313.18 -314.69 L313.68 -316.49 L314.17 -318.29 L314.67 -320.08 L315.17 -321.88 L315.66 -323.67 L316.16 -325.46 L316.66 -327.24 L317.16 -329.03 L317.65 -330.81 L318.15 -332.59 L318.65 -334.36 L319.15 -336.14 L319.64 -337.91 L320.14 -339.68 L320.64 -341.45 L321.14 -343.21 L321.63 -344.98 L322.13 -346.74 L322.63 -348.49 L323.12 -350.25 L323.62 -352.00 L324.12 -353.76 L324.62 -355.50 L325.11 -357.25 L325.61 -359.00 L326.11 -360.74 L326.61 -362.48 L327.10 -364.21 L327.60 -365.95" stroke="#808080" stroke-width="1.08" fill="none" stroke-dasharray="1.3 1.46 1.3 1.46 1.3 1.46 1.3 3.85"/>
<path d="M198.80 80.00 L199.30 79.52 L199.79 78.96 L200.29 78.34 L200.79 77.66 L201.29 76.92 L201.78 76.15 L202.28 75.32 L202.78 74.37 L203.28 73.32 L203.77 72.21 L204.27 71.06 L204.77 69.91 L205.26 68.78 L205.76 67.65 L206.26 66.50 L206.76 65.35 L207.25 64.18 L207.75 62.99 L208.25 61.77 L208.75 60.53 L209.24 59.26 L209.74 57.96 L210.24 56.62 L210.74 55.24 L211.23 53.80 L211.73 52.32 L212.23 50.80 L212.72 49.24 L213.22 47.65 L213.72 46.05 L214.22 44.43 L214.71 42.80 L215.21 41.17 L215.71 39.54 L216.21 37.90 L216.70 36.24 L217.20 34.55 L217.70 32.84 L218.19 31.10 L218.69 29.33 L219.19 27.56 L219.69 25.77 L220.18 23.98 L220.68 22.18 L221.18 20.37 L221.68 18.56 L222.17 16.73 L222.67 14.89 L223.17 13.05 L223.66 11.19 L224.16 9.32 L224.66 7.43 L225.16 5.54 L225.65 3.63 L226.15 1.71 L226.65 -0.23 L227.15 -2.18 L227.64 -4.15 L228.14 -6.13 L228.64 -8.13 L229.14 -10.15 L229.63 -12.18 L230.13 -14.23 L230.63 -16.30 L231.12 -18.39 L231.62 -20.52 L232.12 -22.69 L232.62 -24.90 L233.11 -27.15 L233.61 -29.43 L234.11 -31.74 L234.61 -34.06 L235.10 -36.40 L235.60 -38.75 L236.10 -41.10 L236.59 -43.45 L237.09 -45.80 L237.59 -48.13 L238.09 -50.44 L238.58 -52.74 L239.08 -55.01 L239.58 -57.23 L240.08 -59.43 L240.57 -61.62 L241.07 -63.82 L241.57 -66.05 L242.06 -68.33 L242.56 -70.67 L243.06 -73.09 L243.56 -75.53 L244.05 -77.99 L244.55 -80.48 L245.05 -82.99 L245.55 -85.53 L246.04 -88.09 L246.54 -90.67 L247.04 -93.27 L247.54 -95.89 L248.03 -98.53 L248.53 -101.19 L249.03 -103.86 L249.52 -106.55 L250.02 -109.26 L250.52 -111.98 L251.02 -114.71 L251.51 -117.46 L252.01 -120.22 L252.51 -122.98 L253.01 -125.76 L253.50 -128.55 L254.00 -131.35 L254.50 -134.15 L254.99 -136.97 L255.49 -139.78 L255.99 -142.60 L256.49 -145.43 L256.98 -148.26 L257.48 -151.09 L257.98 -153.93 L258.48 -156.76 L258.97 -159.60 L259.47 -162.43 L259.97 -165.26 L260.46 -168.09 L260.96 -170.92 L261.46 -173.74 L261.96 -176.56 L262.45 -179.40 L262.95 -182.24 L263.45 -185.09 L263.95 -187.95 L264.44 -190.81 L264.94 -193.69 L265.44 -196.57 L265.94 -199.46 L266.43 -202.36 L266.93 -205.27 L267.43 -208.19 L267.92 -211.11 L268.42 -214.04 L268.92 -216.98 L269.42 -219.93 L269.91 -222.89 L270.41 -225.85 L270.91 -228.83 L271.41 -231.81 L271.90 -234.80 L272.40 -237.80 L272.90 -240.81 L273.39 -243.82 L273.89 -246.84 L274.39 -249.87 L274.89 -252.90 L275.38 -255.95 L275.88 -258.99 L276.38 -262.05 L276.88 -265.12 L277.37 -268.19 L277.87 -271.28 L278.37 -274.37 L278.86 -277.48 L279.36 -280.60 L279.86 -283.74 L280.36 -286.89 L280.85 -290.05 L281.35 -293.23 L281.85 -296.42 L282.35 -299.63 L282.84 -302.86 L283.34 -306.11 L283.84 -309.38 L284.34 -312.66 L284.83 -315.95 L285.33 -319.26 L285.83 -322.58 L286.32 -325.92 L286.82 -329.26 L287.32 -332.62 L287.82 -335.99 L288.31 -339.38 L288.81 -342.77 L289.31 -346.18 L289.81 -349.59 L290.30 -353.02 L290.80 -356.45 L291.30 -359.90 L291.79 -363.36 L292.29 -366.82 L292.79 -370.30 L293.29 -373.78 L293.78 -377.27 L294.28 -380.77 L294.78 -384.28 L295.28 -387.80 L295.77 -391.32 L296.27 -394.85 L296.77 -398.39 L297.26 -401.93 L297.76 -405.48 L298.26 -409.04 L298.76 -412.60 L299.25 -416.17 L299.75 -419.74 L300.25 -423.31 L300.75 -426.89 L301.24 -430.48 L301.74 -434.07 L302.24 -437.66 L302.74 -441.26 L303.23 -444.86 L303.73 -448.46 L304.23 -452.06 L304.72 -455.67 L305.22 -459.28 L305.72 -462.89 L306.22 -466.50 L306.71 -470.12 L307.21 -473.74 L307.71 -477.37 L308.21 -481.00 L308.70 -484.64 L309.20 -488.29 L309.70 -491.94 L310.19 -495.60 L310.69 -499.26 L311.19 -502.93 L311.69 -506.61 L312.18 -510.29 L312.68 -513.98 L313.18 -517.68 L313.68 -521.38 L314.17 -525.08 L314.67 -528.80 L315.17 -532.51 L315.66 -536.24 L316.16 -539.97 L316.66 -543.70 L317.16 -547.45 L317.65 -551.19 L318.15 -554.95 L318.65 -558.71 L319.15 -562.47 L319.64 -566.24 L320.14 -570.02 L320.64 -573.80 L321.14 -577.59 L321.63 -581.38 L322.13 -585.18 L322.63 -588.98 L323.12 -592.79 L323.62 -596.61 L324.12 -600.43 L324.62 -604.25 L325.11 -608.09 L325.61 -611.92 L326.11 -615.77 L326.61 -619.61 L327.10 -623.47 L327.60 -627.33" stroke="#ff0000" stroke-width="1.08" fill="none"/>
<path d="M198.80 80.00 L199.30 79.52 L199.79 78.96 L200.29 78.34 L200.79 77.66 L201.29 76.92 L201.78 76.15 L202.28 75.32 L202.78 74.38 L203.28 73.34 L203.77 72.23 L204.27 71.08 L204.77 69.92 L205.26 68.76 L205.76 67.59 L206.26 66.39 L206.76 65.17 L207.25 63.92 L207.75 62.65 L208.25 61.36 L208.75 60.03 L209.24 58.68 L209.74 57.30 L210.24 55.89 L210.74 54.44 L211.23 52.95 L211.73 51.43 L212.23 49.87 L212.72 48.27 L213.22 46.64 L213.72 44.98 L214.22 43.28 L214.71 41.56 L215.21 39.80 L215.71 38.02 L216.21 36.16 L216.70 34.24 L217.20 32.24 L217.70 30.20 L218.19 28.12 L218.69 26.03 L219.19 23.91 L219.69 21.77 L220.18 19.62 L220.68 17.45 L221.18 15.25 L221.68 13.04 L222.17 10.81 L222.67 8.57 L223.17 6.30 L223.66 4.03 L224.16 1.73 L224.66 -0.58 L225.16 -2.91 L225.65 -5.25 L226.15 -7.60 L226.65 -9.97 L227.15 -12.35 L227.64 -14.75 L228.14 -17.16 L228.64 -19.58 L229.14 -22.01 L229.63 -24.46 L230.13 -26.92 L230.63 -29.38 L231.12 -31.86 L231.62 -34.37 L232.12 -36.90 L232.62 -39.47 L233.11 -42.07 L233.61 -44.69 L234.11 -47.33 L234.61 -49.99 L235.10 -52.68 L235.60 -55.37 L236.10 -58.08 L236.59 -60.80 L237.09 -63.53 L237.59 -66.27 L238.09 -69.01 L238.58 -71.75 L239.08 -74.48 L239.58 -77.22 L240.08 -79.95 L240.57 -82.70 L241.07 -85.48 L241.57 -88.30 L242.06 -91.16 L242.56 -94.10 L243.06 -97.09 L243.56 -100.10 L244.05 -103.13 L244.55 -106.19 L245.05 -109.26 L245.55 -112.35 L246.04 -115.46 L246.54 -118.59 L247.04 -121.73 L247.54 -124.90 L248.03 -128.08 L248.53 -131.29 L249.03 -134.51 L249.52 -137.75 L250.02 -141.00 L250.52 -144.28 L251.02 -147.57 L251.51 -150.88 L252.01 -154.21 L252.51 -157.55 L253.01 -160.91 L253.50 -164.29 L254.00 -167.68 L254.50 -171.09 L254.99 -174.52 L255.49 -177.96 L255.99 -181.42 L256.49 -184.90 L256.98 -188.39 L257.48 -191.89 L257.98 -195.41 L258.48 -198.95 L258.97 -202.50 L259.47 -206.06 L259.97 -209.64 L260.46 -213.24 L260.96 -216.85 L261.46 -220.47 L261.96 -224.11 L262.45 -227.76 L262.95 -231.44 L263.45 -235.12 L263.95 -238.83 L264.44 -242.55 L264.94 -246.29 L265.44 -250.04 L265.94 -253.82 L266.43 -257.61 L266.93 -261.41 L267.43 -265.24 L267.92 -269.08 L268.42 -272.93 L268.92 -276.81 L269.42 -280.70 L269.91 -284.61 L270.41 -288.53 L270.91 -292.48 L271.41 -296.44 L271.90 -300.42 L272.40 -304.41 L272.90 -308.42 L273.39 -312.45 L273.89 -316.50 L274.39 -320.57 L274.89 -324.65 L275.38 -328.75 L275.88 -332.87 L276.38 -337.00 L276.88 -341.16 L277.37 -345.33 L277.87 -349.52 L278.37 -353.72 L278.86 -357.95 L279.36 -362.19 L279.86 -366.45 L280.36 -370.73 L280.85 -375.03 L281.35 -379.34 L281.85 -383.67 L282.35 -388.02 L282.84 -392.39 L283.34 -396.78 L283.84 -401.19 L284.34 -405.62 L284.83 -410.08 L285.33 -414.56 L285.83 -419.08 L286.32 -423.63 L286.82 -428.20 L287.32 -432.80 L287.82 -437.42 L288.31 -442.07 L288.81 -446.75 L289.31 -451.46 L289.81 -456.18 L290.30 -460.94 L290.80 -465.71 L291.30 -470.51 L291.79 -475.34 L292.29 -480.18 L292.79 -485.05 L293.29 -489.94 L293.78 -494.86 L294.28 -499.79 L294.78 -504.74 L295.28 -509.72 L295.77 -514.71 L296.27 -519.73 L296.77 -524.76 L297.26 -529.82 L297.76 -534.89 L298.26 -539.97 L298.76 -545.08 L299.25 -550.20 L299.75 -555.34 L300.25 -560.50 L300.75 -565.67 L301.24 -570.86 L301.74 -576.06 L302.24 -581.27 L302.74 -586.51 L303.23 -591.76 L303.73 -597.02 L304.23 -602.31 L304.72 -607.61 L305.22 -612.93 L305.72 -618.27 L306.22 -623.63 L306.71 -629.01 L307.21 -634.40 L307.71 -639.81 L308.21 -645.24 L308.70 -650.69 L309.20 -656.15 L309.70 -661.64 L310.19 -667.14 L310.69 -672.66 L311.19 -678.20 L311.69 -683.76 L312.18 -689.33 L312.68 -694.92 L313.18 -700.54 L313.68 -706.17 L314.17 -711.81 L314.67 -717.48 L315.17 -723.17 L315.66 -728.87 L316.16 -734.59 L316.66 -740.33 L317.16 -746.09 L317.65 -751.87 L318.15 -757.67 L318.65 -763.48 L319.15 -769.31 L319.64 -775.17 L320.14 -781.04 L320.64 -786.93 L321.14 -792.84 L321.63 -798.76 L322.13 -804.71 L322.63 -810.67 L323.12 -816.66 L323.62 -822.66 L324.12 -828.68 L324.62 -834.72 L325.11 -840.78 L325.61 -846.86 L326.11 -852.95 L326.61 -859.07 L327.10 -865.21 L327.60 -871.36" stroke="#00ff00" stroke-width="1.08" fill="none" stroke-dasharray="3 1.4"/>
</g>
<rect x="198.8" y="30.45" width="128.8" height="49.55" fill="none" stroke="#000" stroke-width="1.2"/>
<text class="tk" x="190.8" y="34.65" text-anchor="end">2</text>
<text class="tk" x="190.8" y="84.20" text-anchor="end">0</text>
<text class="tk" x="200.50" y="98.2" text-anchor="middle">0</text>
<text class="tk" x="329.60" y="98.2" text-anchor="middle">4000</text>
</g>
</svg></body></html>
